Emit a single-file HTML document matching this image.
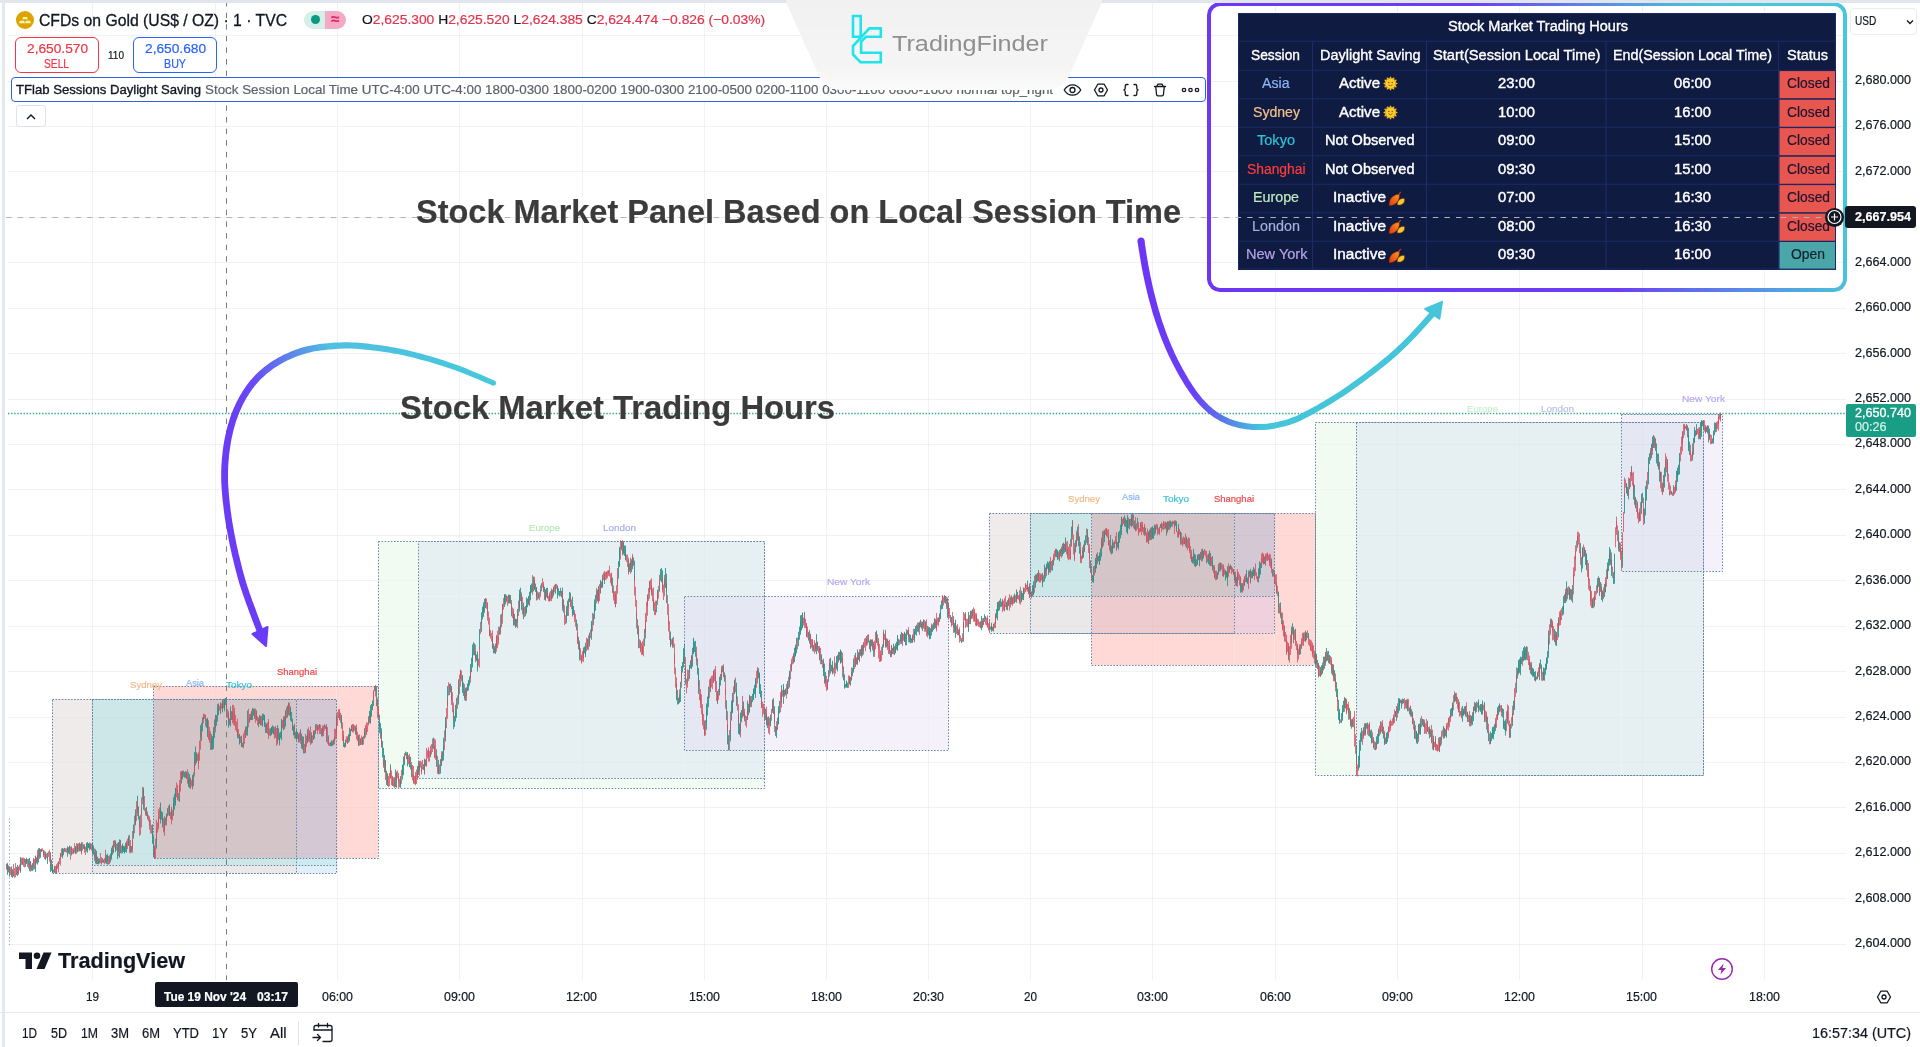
<!DOCTYPE html>
<html><head><meta charset="utf-8"><title>TFlab Sessions Daylight Saving</title>
<style>
html,body{margin:0;padding:0;background:#fff}
body{width:1920px;height:1047px;position:relative;overflow:hidden;font-family:"Liberation Sans",sans-serif}
.t{position:absolute;white-space:pre;margin:0;transform-origin:0 50%;-webkit-text-stroke:0.2px}
.b{position:absolute;box-sizing:border-box;display:block}
.chart{position:absolute;left:0;top:0}
</style></head><body>
<svg class="chart" width="1920" height="1047" viewBox="0 0 1920 1047">
<defs>
<linearGradient id="ga1" gradientUnits="userSpaceOnUse" x1="493" y1="380" x2="225" y2="420"><stop offset="0" stop-color="#45c8dc"/><stop offset="0.58" stop-color="#4fc0e0"/><stop offset="0.88" stop-color="#6a48f6"/><stop offset="1" stop-color="#6a3cf5"/></linearGradient>
<linearGradient id="ga2" gradientUnits="userSpaceOnUse" x1="1140" y1="0" x2="1442" y2="0"><stop offset="0" stop-color="#6d35f5"/><stop offset="0.18" stop-color="#6a40f5"/><stop offset="0.4" stop-color="#45c4da"/><stop offset="1" stop-color="#45c4da"/></linearGradient>
</defs>
<path d="M92.5 3V1012M215.5 3V1012M337.5 3V1012M459.5 3V1012M582.5 3V1012M704.5 3V1012M826.5 3V1012M928.5 3V1012M1030.5 3V1012M1152.5 3V1012M1275.5 3V1012M1397.5 3V1012M1519.5 3V1012M1642.5 3V1012M1764.5 3V1012M8 35.5H1846M8 81.5H1846M8 126.5H1846M8 171.5H1846M8 217.5H1846M8 262.5H1846M8 308.5H1846M8 353.5H1846M8 399.5H1846M8 444.5H1846M8 489.5H1846M8 535.5H1846M8 580.5H1846M8 626.5H1846M8 671.5H1846M8 717.5H1846M8 762.5H1846M8 807.5H1846M8 853.5H1846M8 898.5H1846M8 944.5H1846" stroke="#f6f6f9" stroke-width="1" fill="none"/>
<rect x="52.0" y="699.0" width="40.4" height="159.0" fill="#efebeb"/><rect x="52.0" y="858.0" width="40.4" height="7.0" fill="#efebeb"/><rect x="52.0" y="865.0" width="40.4" height="8.0" fill="#efebeb"/><rect x="92.4" y="699.0" width="61.1" height="159.0" fill="#cde6e8"/><rect x="92.4" y="858.0" width="61.1" height="7.0" fill="#cde6e8"/><rect x="92.4" y="865.0" width="61.1" height="8.0" fill="#ebe8ea"/><rect x="153.5" y="686.0" width="142.5" height="13.0" fill="#ffd9d6"/><rect x="153.5" y="699.0" width="142.5" height="159.0" fill="#d4c5c8"/><rect x="153.5" y="858.0" width="142.5" height="7.0" fill="#cde6e8"/><rect x="153.5" y="865.0" width="142.5" height="8.0" fill="#ebe8ea"/><rect x="296.0" y="686.0" width="40.5" height="13.0" fill="#ffd9d6"/><rect x="296.0" y="699.0" width="40.5" height="159.0" fill="#d3c8d3"/><rect x="296.0" y="858.0" width="40.5" height="7.0" fill="#cdeaf1"/><rect x="296.0" y="865.0" width="40.5" height="8.0" fill="#e0f0fb"/><rect x="336.5" y="686.0" width="41.5" height="13.0" fill="#ffd9d6"/><rect x="336.5" y="699.0" width="41.5" height="159.0" fill="#ffd9d6"/><rect x="378.0" y="541.7" width="40.7" height="55.0" fill="#f2fbf2"/><rect x="378.0" y="596.7" width="40.7" height="153.3" fill="#f2fbf2"/><rect x="378.0" y="750.0" width="40.7" height="28.0" fill="#f2fbf2"/><rect x="378.0" y="778.0" width="40.7" height="10.0" fill="#f2fbf2"/><rect x="418.7" y="541.7" width="265.6" height="55.0" fill="#e6f0f2"/><rect x="418.7" y="596.7" width="265.6" height="153.3" fill="#e6f0f2"/><rect x="418.7" y="750.0" width="265.6" height="28.0" fill="#e6f0f2"/><rect x="418.7" y="778.0" width="265.6" height="10.0" fill="#f2fbf2"/><rect x="684.3" y="541.7" width="80.4" height="55.0" fill="#e6f0f2"/><rect x="684.3" y="596.7" width="80.4" height="153.3" fill="#e5e7f3"/><rect x="684.3" y="750.0" width="80.4" height="28.0" fill="#e6f0f2"/><rect x="684.3" y="778.0" width="80.4" height="10.0" fill="#f2fbf2"/><rect x="764.7" y="596.7" width="183.8" height="153.3" fill="#f4f1fb"/><rect x="989.5" y="513.0" width="40.5" height="83.0" fill="#efebeb"/><rect x="989.5" y="596.0" width="40.5" height="37.3" fill="#efebeb"/><rect x="1030.0" y="513.0" width="61.5" height="83.0" fill="#cde6e8"/><rect x="1030.0" y="596.0" width="61.5" height="37.3" fill="#ebe8ea"/><rect x="1091.5" y="513.0" width="143.0" height="83.0" fill="#d4c5c8"/><rect x="1091.5" y="596.0" width="143.0" height="37.3" fill="#eecbcf"/><rect x="1091.5" y="633.3" width="143.0" height="31.7" fill="#ffd9d6"/><rect x="1234.5" y="513.0" width="40.0" height="83.0" fill="#d3c8d3"/><rect x="1234.5" y="596.0" width="40.0" height="37.3" fill="#f0d0dc"/><rect x="1234.5" y="633.3" width="40.0" height="31.7" fill="#ffd9d6"/><rect x="1274.5" y="513.0" width="40.5" height="83.0" fill="#ffd9d6"/><rect x="1274.5" y="596.0" width="40.5" height="37.3" fill="#ffd9d6"/><rect x="1274.5" y="633.3" width="40.5" height="31.7" fill="#ffd9d6"/><rect x="1315.3" y="422.0" width="40.7" height="149.0" fill="#f2fbf2"/><rect x="1315.3" y="571.0" width="40.7" height="204.7" fill="#f2fbf2"/><rect x="1356.0" y="422.0" width="265.5" height="149.0" fill="#e6f0f2"/><rect x="1356.0" y="571.0" width="265.5" height="204.7" fill="#e6f0f2"/><rect x="1621.5" y="414.0" width="81.5" height="8.0" fill="#f4f1fb"/><rect x="1621.5" y="422.0" width="81.5" height="149.0" fill="#e5e7f3"/><rect x="1621.5" y="571.0" width="81.5" height="204.7" fill="#e6f0f2"/><rect x="1703.0" y="414.0" width="19.0" height="8.0" fill="#f4f1fb"/><rect x="1703.0" y="422.0" width="19.0" height="149.0" fill="#f4f1fb"/>
<path d="M92.5 3V1012M215.5 3V1012M337.5 3V1012M459.5 3V1012M582.5 3V1012M704.5 3V1012M826.5 3V1012M928.5 3V1012M1030.5 3V1012M1152.5 3V1012M1275.5 3V1012M1397.5 3V1012M1519.5 3V1012M1642.5 3V1012M1764.5 3V1012M8 35.5H1846M8 81.5H1846M8 126.5H1846M8 171.5H1846M8 217.5H1846M8 262.5H1846M8 308.5H1846M8 353.5H1846M8 399.5H1846M8 444.5H1846M8 489.5H1846M8 535.5H1846M8 580.5H1846M8 626.5H1846M8 671.5H1846M8 717.5H1846M8 762.5H1846M8 807.5H1846M8 853.5H1846M8 898.5H1846M8 944.5H1846" stroke="rgba(60,70,100,0.024)" stroke-width="1" fill="none"/>
<g fill="none" stroke="#6483a6" stroke-width="1" stroke-dasharray="1.5 1.6"><rect x="52.5" y="699.5" width="244" height="174"/><rect x="92.5" y="699.5" width="244" height="174"/><rect x="92.5" y="699.5" width="244" height="166"/><rect x="153.5" y="686.5" width="225" height="172"/><rect x="378.5" y="541.5" width="386" height="247"/><rect x="418.5" y="541.5" width="346" height="237"/><rect x="684.5" y="596.5" width="264" height="154"/><rect x="989.5" y="513.5" width="245" height="120"/><rect x="1030.5" y="513.5" width="244" height="120"/><rect x="1030.5" y="513.5" width="244" height="83"/><rect x="1091.5" y="513.5" width="224" height="152"/><rect x="1315.5" y="422.5" width="388" height="353"/><rect x="1356.5" y="422.5" width="347" height="353"/><rect x="1621.5" y="414.5" width="101" height="157"/></g>
<path d="M9.5 818V945" stroke="#9db2c8" stroke-width="1" stroke-dasharray="1.5 2" fill="none"/>
<path d="M6.5 863.7V869.6M7.5 863.2V874.8M8.5 865.4V872.5M9.5 866.3V876.7M11.5 866.3V876.9M12.5 869.2V877.9M17.5 865.0V875.9M20.5 857.0V872.8M20.5 858.9V871.3M25.5 859.1V866.8M26.5 858.7V863.7M26.5 857.7V863.6M28.5 858.8V864.8M29.5 858.1V871.1M31.5 864.7V870.8M32.5 863.2V871.0M33.5 858.6V869.6M35.5 855.6V871.9M36.5 857.4V863.5M37.5 854.8V864.6M38.5 848.4V862.5M39.5 848.1V856.5M40.5 849.1V857.8M43.5 850.2V855.4M45.5 851.6V859.9M47.5 856.8V863.9M47.5 852.6V858.7M50.5 852.0V872.0M51.5 859.6V870.9M52.5 864.3V873.0M52.5 866.4V873.1M53.5 869.6V872.6M54.5 865.9V872.8M58.5 861.3V867.1M60.5 853.1V858.9M62.5 848.6V858.3M62.5 848.1V856.1M63.5 848.7V855.2M67.5 847.8V856.8M67.5 846.4V851.1M68.5 847.2V853.5M69.5 846.8V854.4M69.5 845.5V850.3M71.5 847.6V855.4M75.5 846.4V854.2M75.5 846.3V851.1M77.5 844.8V852.3M77.5 843.5V851.8M79.5 842.9V851.4M80.5 843.8V851.3M81.5 842.7V853.2M83.5 844.3V848.9M84.5 844.4V849.0M86.5 844.1V851.6M86.5 842.8V850.0M87.5 842.0V852.7M88.5 843.5V848.3M88.5 843.6V847.5M89.5 842.6V850.4M92.5 842.9V854.3M92.5 842.3V852.6M93.5 845.5V854.8M95.5 849.2V863.5M96.5 850.7V864.2M97.5 856.6V864.1M98.5 859.4V864.3M99.5 858.4V863.7M102.5 858.2V862.7M105.5 854.7V862.7M106.5 854.9V863.9M107.5 856.0V860.6M107.5 853.8V864.7M110.5 853.5V862.2M111.5 850.0V859.6M111.5 847.6V856.9M112.5 845.4V854.8M115.5 840.5V849.4M115.5 841.6V852.0M117.5 843.1V859.2M118.5 842.1V851.7M119.5 839.4V857.9M120.5 839.9V853.2M122.5 844.7V851.7M122.5 843.7V853.2M123.5 845.9V851.9M124.5 847.3V853.6M124.5 845.8V852.6M125.5 842.7V852.0M126.5 843.0V852.5M128.5 837.9V845.5M128.5 835.6V845.9M131.5 846.1V852.4M133.5 824.5V838.6M135.5 813.9V825.4M135.5 809.3V824.3M137.5 795.8V812.8M138.5 806.3V819.6M139.5 816.2V827.4M143.5 787.4V800.0M143.5 789.7V809.7M146.5 807.0V815.9M152.5 828.1V837.2M152.5 824.3V843.8M153.5 836.1V856.1M156.5 828.6V848.6M160.5 802.7V819.1M160.5 808.5V823.5M161.5 811.2V819.6M162.5 812.1V822.8M162.5 817.6V827.4M164.5 820.4V831.1M165.5 817.4V825.2M166.5 813.7V821.0M167.5 808.2V816.6M169.5 805.4V815.5M169.5 804.3V816.0M171.5 809.3V819.1M173.5 802.6V815.8M173.5 797.2V809.1M174.5 793.8V809.8M175.5 787.8V805.7M175.5 788.0V803.3M179.5 784.5V801.8M181.5 771.4V783.5M182.5 770.7V779.4M184.5 772.0V777.5M185.5 771.1V777.9M186.5 771.6V778.8M188.5 772.3V785.1M188.5 778.8V786.9M189.5 774.2V788.2M190.5 778.0V788.5M192.5 775.0V789.3M193.5 772.6V786.1M194.5 752.1V772.1M195.5 746.6V765.2M196.5 753.5V760.3M196.5 752.4V763.1M200.5 725.2V737.3M201.5 722.8V740.9M202.5 717.3V731.3M203.5 715.2V719.5M206.5 718.8V727.7M207.5 717.8V733.7M207.5 719.9V737.0M211.5 734.0V749.9M211.5 738.3V748.7M212.5 736.2V749.7M213.5 731.3V748.9M213.5 727.1V742.3M214.5 719.4V737.8M215.5 714.7V728.6M216.5 715.1V725.9M217.5 708.0V721.6M217.5 704.1V714.2M218.5 703.5V715.1M220.5 702.5V713.9M222.5 701.2V712.4M222.5 699.8V711.0M224.5 698.7V711.3M224.5 699.9V707.7M225.5 698.0V705.1M226.5 703.4V717.4M228.5 713.8V727.7M229.5 718.5V725.1M230.5 706.5V726.5M231.5 711.0V720.0M232.5 711.8V719.9M237.5 730.1V738.2M239.5 734.0V743.6M239.5 734.3V744.6M241.5 735.7V746.8M241.5 736.8V746.7M242.5 742.8V747.4M245.5 727.5V738.0M246.5 726.5V735.3M247.5 723.3V735.7M247.5 710.6V730.6M249.5 717.3V722.8M250.5 713.8V720.1M251.5 711.5V720.0M252.5 708.0V720.1M253.5 708.7V715.7M254.5 708.6V719.0M256.5 710.3V719.9M258.5 718.6V727.2M259.5 715.2V723.9M260.5 715.9V725.2M262.5 718.1V726.6M262.5 713.6V725.5M263.5 713.9V720.3M264.5 714.8V727.0M264.5 716.3V723.5M265.5 722.5V733.0M266.5 723.5V732.9M270.5 728.3V736.2M271.5 726.9V735.1M271.5 727.8V734.3M272.5 725.3V733.3M273.5 726.3V734.3M273.5 728.9V734.1M277.5 725.1V742.5M278.5 728.2V740.1M279.5 732.6V745.4M279.5 734.6V743.5M280.5 731.7V738.3M281.5 720.7V740.3M281.5 718.8V737.8M283.5 719.1V730.2M284.5 716.1V729.1M285.5 710.7V726.7M287.5 705.5V717.5M288.5 702.5V715.2M290.5 706.5V716.3M290.5 707.9V720.6M291.5 711.9V721.8M292.5 718.7V729.7M292.5 722.9V730.6M293.5 725.7V735.3M294.5 725.3V734.9M295.5 731.9V738.6M296.5 729.3V740.8M296.5 730.7V739.2M297.5 731.9V738.7M298.5 734.0V742.7M300.5 729.3V740.2M301.5 733.5V748.5M302.5 736.3V748.1M303.5 736.5V753.5M305.5 741.4V753.1M307.5 733.7V743.2M307.5 729.1V741.4M311.5 732.3V743.6M311.5 735.9V742.4M313.5 730.5V740.0M314.5 730.4V738.5M315.5 724.2V733.6M317.5 724.8V730.6M319.5 724.0V728.7M321.5 728.3V736.3M322.5 726.9V734.9M324.5 724.2V727.2M325.5 725.7V729.0M326.5 724.2V741.9M330.5 742.5V746.3M330.5 742.1V745.2M331.5 740.4V746.2M332.5 742.9V745.9M333.5 739.5V744.9M334.5 736.9V741.4M336.5 714.6V733.5M341.5 714.8V724.1M341.5 715.9V728.6M343.5 735.4V746.9M344.5 742.9V747.6M345.5 739.5V747.1M345.5 739.9V746.7M348.5 734.2V742.6M349.5 734.8V741.5M349.5 727.6V736.3M350.5 728.9V736.0M351.5 725.2V731.1M353.5 725.1V730.5M355.5 725.9V734.8M358.5 736.5V746.0M358.5 734.7V744.2M360.5 738.3V745.0M362.5 737.2V744.8M362.5 737.2V745.1M364.5 732.0V738.7M364.5 728.2V735.3M369.5 710.8V722.9M370.5 711.6V723.6M370.5 705.2V723.2M371.5 704.0V716.8M372.5 700.5V710.2M373.5 690.8V706.0M374.5 686.6V691.1M376.5 686.2V706.2M379.5 714.6V726.5M379.5 721.8V733.3M380.5 723.1V738.6M381.5 728.3V746.6M382.5 741.0V757.5M383.5 747.9V765.4M384.5 755.0V772.3M385.5 760.6V773.0M386.5 770.7V785.0M387.5 773.6V786.0M390.5 764.4V778.2M394.5 778.7V786.2M395.5 769.5V787.1M396.5 772.7V787.8M400.5 779.7V786.2M400.5 776.1V787.9M402.5 765.1V779.5M402.5 764.6V774.7M403.5 756.5V775.2M404.5 755.4V765.2M405.5 751.6V755.7M406.5 752.5V759.2M407.5 752.0V766.4M409.5 757.2V767.2M410.5 756.9V769.4M411.5 765.4V777.3M413.5 774.4V783.4M417.5 766.0V777.3M418.5 761.0V774.8M419.5 763.6V770.9M423.5 764.2V769.9M424.5 759.3V774.6M425.5 759.6V766.0M430.5 750.1V757.2M433.5 737.7V749.0M436.5 749.3V759.1M436.5 755.2V766.9M438.5 759.9V773.7M438.5 765.4V774.4M440.5 759.1V773.6M441.5 755.0V766.0M442.5 751.3V761.2M443.5 745.6V760.4M443.5 737.8V756.0M445.5 722.9V741.5M445.5 717.0V737.0M447.5 686.1V706.1M449.5 684.2V695.0M450.5 683.6V692.3M451.5 686.3V700.5M453.5 709.5V729.1M454.5 716.1V726.9M455.5 711.0V721.6M455.5 704.8V716.2M456.5 697.9V717.9M458.5 687.4V704.5M458.5 679.3V699.3M460.5 669.8V678.7M462.5 675.6V687.6M462.5 675.2V692.9M463.5 682.5V695.9M464.5 690.6V698.0M465.5 687.8V700.9M466.5 687.2V695.7M467.5 683.6V691.1M468.5 682.3V690.4M468.5 679.9V686.8M469.5 676.4V685.5M470.5 664.0V678.0M471.5 657.8V672.2M472.5 654.1V667.4M472.5 644.5V661.7M473.5 642.3V655.2M474.5 643.3V655.3M475.5 651.6V658.5M476.5 654.4V660.9M477.5 651.5V671.5M477.5 655.4V668.1M479.5 629.1V649.1M481.5 619.0V631.8M481.5 612.3V623.5M482.5 606.6V619.5M483.5 605.0V616.9M483.5 602.4V612.1M484.5 599.0V612.7M485.5 598.4V608.1M489.5 627.5V636.2M492.5 636.7V648.3M493.5 643.6V653.3M494.5 648.2V653.2M495.5 643.5V654.0M496.5 635.2V647.4M499.5 626.7V634.7M501.5 613.9V627.1M502.5 603.9V614.8M504.5 594.2V607.0M504.5 594.9V602.8M505.5 594.0V604.3M508.5 594.5V603.6M509.5 594.8V603.3M510.5 595.0V603.8M511.5 603.4V616.3M513.5 612.0V625.6M514.5 614.1V625.4M515.5 618.8V627.8M516.5 619.1V626.9M517.5 609.0V622.3M519.5 593.7V611.6M519.5 589.7V607.6M520.5 587.7V601.0M521.5 594.1V610.1M523.5 602.7V613.5M523.5 608.0V619.2M525.5 606.0V616.2M526.5 605.2V612.6M526.5 597.5V613.6M527.5 598.5V607.2M528.5 595.9V603.7M529.5 591.8V605.9M530.5 585.0V600.3M530.5 585.5V594.1M531.5 583.5V592.6M533.5 576.6V591.5M534.5 579.9V589.8M535.5 583.6V591.9M536.5 587.5V596.1M536.5 587.0V600.5M538.5 592.4V597.9M541.5 583.2V591.2M543.5 584.6V592.1M544.5 586.8V599.8M545.5 589.4V600.1M546.5 588.0V597.3M547.5 587.8V598.5M549.5 595.2V601.5M551.5 590.2V598.6M552.5 589.6V598.4M553.5 586.5V594.9M555.5 584.2V593.8M557.5 585.4V591.0M557.5 586.6V598.5M558.5 588.3V595.2M559.5 591.0V596.5M560.5 587.8V593.4M561.5 590.9V597.4M562.5 587.5V607.5M563.5 599.2V612.6M566.5 611.7V623.2M566.5 606.1V615.9M567.5 600.7V615.9M568.5 598.6V607.6M569.5 591.9V602.0M570.5 592.8V606.8M572.5 596.7V616.5M572.5 605.4V613.9M573.5 606.1V615.0M576.5 619.5V630.3M578.5 636.8V649.3M579.5 643.0V660.5M583.5 647.4V658.0M584.5 646.6V653.4M585.5 646.2V657.1M585.5 642.8V654.9M587.5 638.9V649.6M589.5 636.9V646.7M589.5 632.6V643.1M591.5 624.0V639.7M591.5 620.9V632.2M593.5 613.7V625.2M594.5 603.5V619.0M594.5 599.4V612.7M595.5 595.0V610.7M597.5 589.6V601.5M598.5 586.0V600.8M600.5 581.2V593.6M601.5 581.6V588.1M602.5 578.3V587.6M602.5 574.6V586.8M604.5 573.7V584.0M608.5 570.4V573.5M612.5 577.7V592.9M615.5 594.1V607.3M618.5 561.2V578.6M619.5 550.1V566.6M619.5 546.9V566.9M621.5 541.4V550.2M622.5 540.3V555.3M623.5 542.2V553.3M624.5 545.4V555.9M625.5 545.6V559.7M625.5 549.3V560.3M628.5 560.1V572.8M629.5 563.3V571.8M630.5 561.3V570.1M631.5 559.2V572.2M632.5 556.0V569.2M633.5 557.5V565.7M634.5 560.7V580.7M637.5 619.3V634.3M638.5 628.6V648.2M642.5 646.0V654.4M644.5 629.0V646.1M647.5 594.4V606.4M649.5 580.9V592.0M651.5 585.5V595.6M653.5 599.3V611.0M656.5 600.7V612.3M657.5 589.8V601.2M659.5 579.7V591.6M660.5 568.9V580.6M661.5 568.1V582.3M662.5 570.3V589.3M665.5 568.0V588.0M666.5 573.7V591.8M666.5 583.2V603.2M670.5 631.5V647.1M670.5 638.4V645.1M672.5 637.9V647.6M676.5 683.8V700.2M677.5 690.1V704.6M678.5 697.7V704.1M679.5 694.7V703.1M680.5 681.9V701.9M681.5 666.0V682.1M682.5 662.1V672.6M683.5 657.9V667.6M683.5 648.2V663.0M684.5 643.7V663.7M685.5 666.7V684.6M689.5 666.2V679.1M689.5 664.9V671.8M690.5 660.2V668.3M691.5 655.8V669.1M692.5 647.8V666.8M693.5 639.0V654.2M693.5 637.8V653.3M694.5 641.4V652.0M695.5 640.9V656.7M697.5 658.4V674.7M698.5 667.9V685.8M698.5 674.8V693.8M704.5 720.6V734.6M706.5 710.2V729.8M706.5 703.5V723.5M707.5 696.6V715.5M708.5 693.4V707.3M708.5 686.6V698.6M710.5 678.9V692.2M713.5 670.4V683.0M717.5 691.0V704.1M719.5 683.2V695.4M719.5 676.8V691.9M720.5 674.0V685.6M721.5 668.7V680.3M722.5 665.4V672.2M724.5 672.3V681.7M726.5 700.3V720.3M727.5 724.4V744.4M728.5 735.2V750.5M730.5 721.3V741.3M731.5 700.6V720.6M732.5 700.2V713.2M732.5 692.8V712.8M734.5 680.7V694.0M734.5 679.6V691.8M736.5 682.6V698.6M736.5 691.3V705.9M738.5 713.9V733.9M739.5 723.4V735.2M740.5 712.6V732.6M741.5 710.0V722.3M743.5 701.5V716.3M744.5 712.3V721.3M747.5 700.7V719.9M748.5 703.7V715.2M749.5 694.8V712.4M750.5 696.2V707.1M752.5 693.9V702.1M753.5 688.9V699.5M753.5 688.5V699.9M754.5 684.9V694.2M755.5 678.0V698.0M755.5 681.4V692.7M758.5 668.1V678.4M759.5 672.4V688.1M759.5 673.9V693.9M760.5 684.2V697.3M761.5 690.8V707.8M765.5 708.7V719.9M766.5 713.6V725.5M767.5 716.9V728.1M768.5 716.3V725.2M770.5 718.2V726.4M770.5 714.6V725.1M772.5 699.8V711.4M773.5 698.1V714.0M774.5 706.2V722.6M775.5 726.1V735.9M776.5 727.0V737.9M777.5 717.7V729.8M778.5 710.6V723.8M778.5 706.1V724.4M779.5 701.0V713.3M781.5 685.1V702.6M783.5 686.5V695.7M783.5 683.9V703.9M784.5 689.8V696.7M785.5 688.8V695.3M787.5 686.1V694.1M787.5 680.9V693.5M789.5 673.1V687.5M789.5 670.7V681.1M791.5 662.7V671.5M793.5 654.6V663.5M794.5 647.8V662.1M795.5 646.5V656.6M795.5 644.7V655.9M796.5 637.7V653.3M798.5 637.8V646.2M798.5 631.8V640.4M799.5 626.6V639.6M800.5 621.6V634.8M800.5 615.3V632.0M801.5 615.0V630.5M802.5 612.5V627.9M802.5 613.1V628.2M804.5 611.9V622.8M806.5 623.0V636.6M809.5 630.1V643.5M810.5 633.7V648.8M813.5 645.0V651.5M815.5 643.5V651.6M816.5 634.2V654.2M817.5 641.7V650.8M819.5 648.1V660.4M821.5 654.2V660.8M821.5 656.0V664.2M823.5 658.7V676.2M823.5 664.0V671.8M824.5 663.6V683.6M825.5 672.1V683.2M827.5 680.9V689.0M828.5 670.1V681.9M830.5 657.8V673.6M831.5 664.8V671.5M832.5 660.7V674.4M832.5 665.8V672.1M834.5 663.6V668.5M836.5 661.9V669.5M836.5 656.0V667.4M837.5 655.1V671.3M838.5 653.1V661.3M839.5 651.9V660.2M840.5 649.5V663.7M840.5 650.2V662.9M841.5 651.3V662.5M843.5 666.5V680.4M844.5 674.3V688.7M844.5 684.4V687.4M845.5 684.1V687.6M846.5 680.9V687.1M846.5 680.7V687.5M847.5 682.6V687.9M849.5 677.1V684.0M850.5 676.9V685.7M851.5 672.3V680.4M852.5 667.9V676.2M853.5 663.8V672.7M853.5 658.5V671.2M855.5 652.8V667.1M856.5 657.4V664.5M857.5 649.5V664.8M858.5 652.3V660.0M860.5 649.1V655.8M861.5 645.3V657.6M862.5 644.8V655.8M866.5 636.0V644.5M868.5 634.7V642.6M869.5 640.6V649.2M870.5 639.4V652.2M871.5 639.6V646.3M873.5 641.9V656.7M876.5 631.2V642.8M876.5 630.6V642.6M882.5 644.4V655.1M883.5 631.8V647.5M885.5 629.8V647.5M886.5 638.2V647.4M890.5 650.3V657.1M891.5 644.9V655.0M892.5 647.9V654.0M893.5 643.7V651.4M894.5 646.0V654.9M895.5 643.6V653.0M896.5 641.8V649.6M897.5 635.0V650.9M897.5 636.7V650.1M898.5 638.9V645.6M900.5 634.2V641.9M901.5 631.8V644.0M902.5 633.7V641.4M904.5 632.5V642.0M904.5 631.8V641.9M905.5 633.6V645.3M906.5 631.8V645.4M907.5 630.1V634.7M909.5 634.1V642.4M910.5 634.9V640.2M910.5 638.4V643.4M911.5 638.3V642.8M912.5 634.5V642.9M914.5 632.0V642.3M914.5 629.0V638.3M915.5 625.9V634.6M916.5 624.8V635.6M917.5 626.0V631.7M918.5 622.6V632.3M919.5 622.6V628.5M920.5 619.7V627.2M921.5 623.5V628.5M922.5 621.8V631.1M923.5 619.5V626.3M925.5 621.2V629.6M927.5 625.7V634.1M928.5 626.8V635.4M929.5 627.0V637.3M929.5 630.6V639.2M930.5 628.2V638.9M931.5 626.2V635.6M932.5 624.5V631.9M933.5 622.5V630.1M935.5 619.1V628.3M936.5 619.9V628.7M939.5 613.5V622.0M940.5 611.0V619.1M940.5 604.9V617.1M941.5 600.5V609.4M942.5 596.9V608.9M944.5 595.8V601.1M945.5 596.3V603.5M947.5 597.7V617.7M950.5 615.0V622.5M953.5 616.2V627.6M954.5 623.1V632.6M955.5 621.9V631.5M955.5 619.7V637.8M958.5 629.5V635.2M961.5 640.0V643.0M963.5 621.7V641.7M965.5 612.1V621.1M968.5 617.1V626.8M968.5 611.9V631.9M970.5 611.4V624.3M971.5 610.7V619.0M972.5 609.2V616.3M976.5 615.2V625.5M981.5 616.0V630.2M982.5 621.1V627.6M983.5 617.9V625.1M984.5 614.3V621.8M985.5 616.1V619.6M990.5 626.6V629.6M991.5 625.3V631.7M991.5 622.7V629.6M992.5 626.8V630.8M993.5 623.7V631.4M995.5 613.6V623.5M996.5 609.2V618.2M997.5 602.0V620.3M997.5 603.7V613.6M998.5 601.4V610.9M999.5 601.1V610.4M1000.5 598.4V607.2M1001.5 601.7V606.7M1002.5 599.3V605.6M1004.5 604.7V611.3M1006.5 602.6V608.5M1007.5 600.2V610.3M1008.5 598.9V606.0M1011.5 595.2V604.5M1012.5 597.2V603.5M1014.5 593.5V603.3M1014.5 595.3V602.9M1016.5 589.5V601.4M1017.5 591.9V599.1M1021.5 592.9V600.9M1021.5 590.9V602.2M1022.5 593.0V599.7M1023.5 589.3V600.1M1023.5 587.5V597.2M1027.5 580.6V589.6M1028.5 586.9V594.2M1029.5 583.4V597.6M1031.5 591.3V596.3M1032.5 585.0V596.5M1033.5 588.0V595.1M1033.5 581.2V594.1M1035.5 574.5V587.8M1036.5 575.1V582.9M1037.5 573.0V581.3M1038.5 570.1V580.3M1042.5 576.7V583.0M1042.5 573.1V587.1M1044.5 564.6V581.6M1045.5 567.4V578.4M1046.5 563.7V570.8M1047.5 561.4V568.8M1048.5 564.8V570.6M1048.5 562.3V574.8M1049.5 560.9V572.4M1050.5 562.1V570.1M1052.5 559.7V570.8M1056.5 548.8V557.1M1057.5 550.0V560.1M1057.5 552.0V557.9M1059.5 550.0V561.3M1060.5 548.8V556.4M1062.5 543.8V556.2M1063.5 543.3V553.9M1064.5 543.8V552.6M1065.5 537.5V551.9M1067.5 549.0V556.0M1071.5 526.6V546.6M1072.5 520.1V534.1M1075.5 540.1V552.4M1077.5 526.7V540.6M1078.5 533.1V546.3M1079.5 536.4V553.8M1082.5 550.6V558.0M1083.5 544.7V557.7M1084.5 540.3V552.2M1085.5 535.3V545.2M1087.5 529.1V539.9M1087.5 534.8V545.0M1090.5 560.4V572.8M1092.5 575.0V582.1M1093.5 575.6V582.7M1093.5 566.3V581.9M1095.5 560.4V572.8M1095.5 557.9V569.0M1096.5 553.9V568.4M1098.5 556.0V561.4M1099.5 552.5V565.0M1099.5 555.7V564.0M1100.5 548.4V560.7M1101.5 540.8V556.8M1102.5 531.3V547.9M1104.5 532.3V542.3M1104.5 529.8V537.4M1108.5 536.3V545.5M1110.5 534.9V552.0M1111.5 545.6V554.4M1112.5 539.3V552.2M1112.5 543.5V553.4M1114.5 542.4V548.1M1116.5 541.3V549.7M1117.5 541.9V547.6M1118.5 535.1V549.7M1118.5 532.1V548.0M1119.5 530.6V542.8M1120.5 524.6V538.5M1121.5 517.4V535.1M1121.5 516.7V529.1M1124.5 515.4V526.3M1125.5 519.6V526.9M1126.5 520.0V532.2M1127.5 517.9V534.1M1127.5 515.1V533.1M1129.5 519.2V525.3M1129.5 519.3V529.1M1131.5 516.4V525.6M1131.5 514.1V527.1M1132.5 513.4V525.8M1134.5 520.5V529.4M1135.5 525.5V530.0M1137.5 517.8V528.8M1140.5 522.4V531.1M1145.5 527.7V535.3M1148.5 531.4V544.1M1149.5 529.8V540.2M1151.5 527.2V539.9M1152.5 526.2V538.9M1152.5 528.6V537.2M1153.5 527.8V538.9M1154.5 524.4V535.5M1155.5 525.1V532.6M1159.5 526.8V532.6M1160.5 524.1V527.9M1161.5 523.5V528.3M1165.5 521.7V528.6M1166.5 522.5V535.6M1167.5 521.9V531.4M1168.5 521.4V529.8M1170.5 520.4V528.4M1171.5 522.0V526.5M1174.5 521.9V527.4M1175.5 520.5V525.9M1176.5 521.1V529.6M1176.5 524.5V532.1M1178.5 524.0V537.8M1180.5 532.3V539.5M1180.5 531.4V544.7M1184.5 538.9V544.2M1186.5 537.5V542.8M1186.5 536.6V548.0M1191.5 553.2V562.1M1192.5 556.5V563.4M1193.5 548.8V563.6M1194.5 553.6V566.2M1195.5 554.6V566.3M1196.5 559.3V565.9M1197.5 554.5V565.0M1197.5 555.7V562.6M1198.5 554.2V560.0M1199.5 553.9V566.3M1200.5 552.0V559.8M1202.5 548.8V561.2M1203.5 550.7V558.5M1206.5 556.2V563.4M1208.5 554.4V564.1M1209.5 550.5V565.4M1210.5 553.0V566.3M1212.5 556.1V567.8M1212.5 562.2V570.3M1214.5 566.7V578.2M1217.5 572.1V578.9M1218.5 566.8V574.8M1218.5 563.8V572.0M1220.5 562.6V571.2M1220.5 562.8V569.1M1225.5 570.3V577.4M1225.5 571.0V580.4M1226.5 571.2V577.7M1227.5 572.0V578.9M1227.5 566.2V586.2M1229.5 566.5V573.0M1230.5 564.4V569.6M1231.5 566.4V569.4M1233.5 569.1V573.7M1234.5 571.6V581.1M1235.5 574.6V581.7M1236.5 576.9V586.1M1240.5 576.8V592.7M1241.5 583.1V592.3M1242.5 583.1V590.4M1244.5 577.1V586.1M1246.5 569.8V582.4M1246.5 576.6V582.3M1247.5 577.7V583.8M1249.5 570.7V576.9M1250.5 568.8V583.4M1251.5 571.3V578.5M1252.5 571.7V578.1M1252.5 569.9V577.1M1253.5 566.9V575.9M1254.5 570.1V576.2M1258.5 568.4V582.6M1259.5 565.5V578.1M1259.5 561.3V573.9M1260.5 562.8V574.6M1261.5 558.6V568.0M1264.5 556.4V564.0M1271.5 558.6V569.1M1272.5 568.9V576.7M1274.5 571.8V583.7M1276.5 582.2V593.8M1278.5 591.6V602.3M1278.5 593.6V613.3M1280.5 602.4V615.6M1281.5 612.5V624.2M1284.5 625.6V637.0M1288.5 645.4V660.3M1291.5 626.7V642.8M1292.5 623.3V634.6M1293.5 627.5V643.2M1295.5 628.8V641.5M1297.5 645.7V654.3M1299.5 646.9V655.0M1300.5 644.2V654.3M1305.5 630.6V642.2M1305.5 633.0V640.2M1306.5 632.3V640.3M1308.5 633.0V639.0M1315.5 652.6V665.1M1316.5 653.8V663.7M1317.5 660.0V669.2M1318.5 663.0V677.4M1320.5 667.0V676.9M1321.5 665.2V675.3M1322.5 665.2V673.8M1323.5 656.7V670.3M1324.5 656.7V668.6M1325.5 651.9V663.3M1326.5 648.1V661.5M1328.5 650.9V663.2M1329.5 655.0V662.1M1331.5 660.7V673.6M1332.5 664.0V675.4M1334.5 670.2V681.4M1336.5 682.1V697.0M1337.5 688.7V701.3M1338.5 699.8V719.8M1339.5 709.1V721.3M1339.5 712.4V723.7M1341.5 713.1V722.9M1342.5 709.7V720.8M1342.5 705.0V715.9M1343.5 700.8V712.2M1344.5 697.1V707.9M1345.5 698.1V708.4M1349.5 708.1V719.4M1350.5 710.8V725.2M1351.5 719.2V728.7M1352.5 719.5V726.9M1356.5 744.9V764.9M1358.5 755.8V770.5M1359.5 750.8V767.7M1359.5 740.1V760.1M1360.5 732.5V750.8M1361.5 734.7V741.8M1361.5 728.0V740.9M1363.5 727.2V736.3M1364.5 723.3V735.5M1365.5 723.8V733.6M1366.5 723.3V728.7M1367.5 722.5V728.6M1369.5 724.5V736.5M1370.5 730.3V738.0M1371.5 729.6V742.1M1371.5 735.4V743.5M1373.5 737.2V748.4M1375.5 742.2V750.2M1376.5 736.4V748.3M1377.5 734.0V744.2M1378.5 730.9V743.6M1378.5 728.6V736.1M1380.5 721.3V734.2M1383.5 726.7V738.5M1384.5 732.9V745.0M1385.5 737.6V743.9M1386.5 732.7V743.2M1386.5 734.1V743.9M1387.5 731.7V742.1M1393.5 717.0V722.6M1395.5 711.5V717.0M1396.5 706.1V720.9M1398.5 698.2V713.3M1399.5 699.4V710.7M1399.5 698.4V706.4M1400.5 699.7V703.1M1401.5 700.2V708.6M1402.5 698.5V704.3M1403.5 699.0V702.9M1406.5 699.5V708.8M1407.5 700.2V711.3M1409.5 707.5V714.3M1410.5 705.6V715.7M1411.5 709.2V717.0M1412.5 711.5V723.7M1414.5 720.7V738.7M1414.5 727.0V737.9M1416.5 731.2V741.4M1416.5 731.0V743.3M1417.5 733.4V744.0M1418.5 724.1V738.8M1419.5 723.6V734.3M1420.5 722.6V734.7M1420.5 718.3V731.4M1422.5 718.9V725.6M1423.5 719.2V727.0M1424.5 721.8V727.8M1427.5 720.8V731.0M1429.5 728.7V738.4M1429.5 726.4V734.0M1430.5 729.2V737.0M1433.5 735.7V749.0M1433.5 739.9V750.4M1439.5 737.1V752.1M1440.5 736.8V746.4M1443.5 726.0V738.7M1444.5 727.8V736.7M1445.5 729.2V736.2M1446.5 725.8V737.8M1450.5 708.9V718.1M1451.5 708.0V716.6M1452.5 704.6V716.1M1452.5 702.4V712.6M1454.5 693.9V702.3M1455.5 693.0V701.3M1458.5 699.3V712.2M1460.5 711.1V715.6M1462.5 705.9V721.8M1463.5 710.8V715.1M1463.5 708.6V715.8M1464.5 706.3V714.4M1465.5 706.1V715.0M1467.5 711.7V718.3M1467.5 712.1V721.9M1470.5 715.0V726.4M1471.5 715.8V723.2M1472.5 712.3V724.9M1473.5 706.5V721.1M1474.5 701.9V711.0M1475.5 704.1V713.3M1476.5 701.6V711.8M1478.5 699.6V709.0M1478.5 702.1V712.3M1480.5 704.0V711.8M1480.5 705.7V710.7M1481.5 704.1V714.5M1482.5 700.5V714.6M1482.5 703.1V710.4M1484.5 702.1V722.1M1487.5 716.7V732.9M1488.5 730.8V741.1M1490.5 737.7V744.1M1490.5 731.4V743.2M1491.5 733.1V741.1M1492.5 727.1V737.4M1492.5 728.3V738.6M1493.5 726.5V739.4M1494.5 724.2V734.0M1495.5 721.7V731.0M1497.5 707.3V719.3M1498.5 705.6V715.2M1499.5 704.7V712.4M1499.5 703.4V708.5M1502.5 708.3V717.4M1503.5 709.1V727.5M1503.5 719.7V728.9M1504.5 720.8V730.0M1505.5 723.4V735.6M1505.5 719.3V732.3M1507.5 710.2V723.6M1510.5 723.7V737.7M1512.5 713.6V726.1M1513.5 700.9V714.9M1514.5 696.6V710.0M1516.5 674.9V692.8M1517.5 668.1V678.5M1518.5 663.1V674.6M1518.5 660.1V672.1M1519.5 658.8V672.9M1520.5 656.7V675.2M1520.5 659.7V668.2M1521.5 657.2V664.2M1522.5 650.8V661.5M1523.5 647.6V661.1M1524.5 650.0V658.7M1524.5 646.2V660.2M1525.5 647.3V660.2M1526.5 649.6V659.8M1526.5 646.1V656.8M1530.5 662.4V673.7M1531.5 664.8V674.9M1532.5 667.7V676.5M1533.5 668.8V675.7M1533.5 669.1V676.8M1534.5 671.9V680.4M1535.5 671.1V681.5M1536.5 676.6V679.6M1537.5 672.4V679.2M1539.5 663.2V680.1M1540.5 659.5V668.9M1541.5 664.6V674.5M1543.5 672.1V680.4M1543.5 667.4V679.7M1544.5 668.2V680.7M1545.5 663.7V674.8M1546.5 658.7V669.6M1546.5 657.3V669.2M1547.5 651.0V663.7M1548.5 638.5V657.7M1548.5 630.4V649.1M1551.5 618.9V627.8M1554.5 629.0V641.5M1555.5 630.9V645.3M1556.5 632.1V646.0M1558.5 617.3V637.3M1562.5 606.4V615.5M1563.5 605.3V614.5M1563.5 596.2V609.8M1564.5 594.2V603.1M1565.5 591.8V603.0M1566.5 581.4V601.4M1567.5 588.8V595.0M1569.5 588.2V597.2M1569.5 587.3V599.8M1570.5 588.9V599.6M1572.5 585.0V602.7M1577.5 536.0V547.7M1580.5 543.0V557.1M1581.5 557.2V572.3M1582.5 548.6V568.6M1582.5 547.2V559.1M1584.5 548.6V556.4M1585.5 549.9V564.9M1586.5 555.2V567.3M1586.5 553.3V570.2M1590.5 585.6V601.3M1592.5 598.4V607.1M1592.5 599.4V608.1M1594.5 595.8V606.7M1597.5 584.2V592.9M1597.5 578.1V588.4M1598.5 576.3V586.7M1599.5 578.2V596.0M1600.5 582.0V591.8M1601.5 587.3V600.0M1602.5 590.4V601.8M1604.5 584.0V597.0M1605.5 581.9V592.3M1607.5 568.2V578.8M1607.5 562.4V578.8M1608.5 558.8V571.2M1609.5 553.8V565.7M1609.5 547.1V561.4M1610.5 549.4V564.9M1611.5 559.3V575.8M1613.5 572.2V584.1M1614.5 570.8V583.7M1614.5 553.8V573.8M1618.5 530.6V548.3M1619.5 542.2V551.7M1622.5 547.6V567.6M1624.5 493.5V513.5M1626.5 484.4V493.5M1626.5 483.1V493.1M1627.5 486.9V495.9M1628.5 489.2V499.3M1629.5 478.3V489.1M1631.5 466.1V476.0M1633.5 482.7V499.6M1634.5 484.8V504.8M1635.5 497.9V508.2M1637.5 501.5V514.1M1639.5 511.5V521.4M1641.5 502.9V513.9M1641.5 493.8V507.4M1642.5 492.8V503.1M1644.5 508.5V523.6M1645.5 499.2V515.4M1645.5 486.2V506.2M1646.5 480.5V500.5M1648.5 468.3V484.4M1648.5 457.2V473.4M1649.5 453.3V464.1M1650.5 451.1V460.2M1651.5 443.8V458.1M1652.5 436.7V450.3M1653.5 435.0V448.0M1655.5 438.3V450.9M1656.5 443.4V455.0M1656.5 450.8V463.4M1657.5 453.5V466.2M1658.5 453.7V468.4M1659.5 461.9V481.6M1660.5 471.6V481.3M1663.5 475.0V491.9M1664.5 467.6V487.6M1665.5 459.7V476.8M1667.5 459.1V475.4M1669.5 491.8V495.4M1671.5 491.0V494.0M1673.5 485.2V495.7M1676.5 470.8V490.8M1677.5 471.1V482.1M1677.5 467.6V477.8M1678.5 464.8V475.1M1679.5 458.1V474.3M1679.5 453.0V465.6M1682.5 431.1V443.3M1686.5 424.2V429.5M1687.5 425.4V437.3M1688.5 427.9V447.9M1688.5 435.1V451.2M1689.5 441.6V455.0M1692.5 451.4V460.5M1693.5 437.9V454.8M1694.5 430.9V443.0M1694.5 427.1V442.8M1695.5 430.3V436.4M1696.5 424.1V435.2M1699.5 430.0V439.1M1700.5 423.0V439.5M1701.5 420.9V436.8M1701.5 420.2V426.1M1702.5 420.7V426.1M1703.5 420.0V429.8M1705.5 427.0V433.2M1706.5 426.6V431.9M1707.5 425.3V433.5M1708.5 425.6V442.5M1709.5 428.5V438.2M1712.5 438.4V443.5M1713.5 433.5V443.6M1713.5 430.6V440.6M1714.5 422.3V435.2M1715.5 422.9V432.4M1718.5 416.6V423.9M1720.5 412.8V419.4" stroke="#2a9187" stroke-width="1" fill="none" opacity="0.88"/><path d="M7.5 863.6V870.9M9.5 866.8V873.1M10.5 867.2V875.0M11.5 868.7V873.8M13.5 863.9V876.1M13.5 871.3V876.5M14.5 868.2V877.8M15.5 863.0V877.3M16.5 867.1V875.2M16.5 867.2V875.0M18.5 866.5V874.7M18.5 866.9V873.9M19.5 864.5V870.5M21.5 857.7V864.8M22.5 858.5V865.2M22.5 857.8V864.4M23.5 857.6V866.7M24.5 858.2V867.4M24.5 859.1V862.1M27.5 859.0V867.0M28.5 862.7V868.5M30.5 861.1V869.2M30.5 861.7V871.8M33.5 858.2V866.7M34.5 859.0V869.4M35.5 856.4V865.0M37.5 849.9V861.4M39.5 849.4V858.9M41.5 849.1V852.1M41.5 848.6V851.6M42.5 848.3V851.3M43.5 850.2V857.1M44.5 850.6V859.0M45.5 853.9V858.2M46.5 853.4V858.0M48.5 851.3V856.9M49.5 849.7V861.6M50.5 856.3V867.5M54.5 867.9V871.5M55.5 866.0V873.9M56.5 864.2V873.2M56.5 865.6V873.4M57.5 862.6V869.0M58.5 863.3V872.3M59.5 857.9V864.1M60.5 853.3V865.7M61.5 848.5V856.8M64.5 847.9V851.0M64.5 848.2V852.1M65.5 848.3V852.1M66.5 848.3V852.6M70.5 846.6V859.7M71.5 846.3V851.7M72.5 848.5V854.2M73.5 850.3V853.9M73.5 848.1V852.9M74.5 843.0V852.7M76.5 843.2V853.7M78.5 843.5V851.3M79.5 842.7V849.4M81.5 842.3V854.6M82.5 842.2V850.5M84.5 846.0V852.7M85.5 846.8V855.0M90.5 842.9V849.4M90.5 844.4V849.0M91.5 843.6V850.6M94.5 848.3V857.5M94.5 851.8V860.9M96.5 854.8V862.8M98.5 858.1V862.9M100.5 853.0V863.0M101.5 857.1V864.4M101.5 860.8V864.3M103.5 859.6V862.6M103.5 859.7V862.7M104.5 858.1V864.2M105.5 849.7V863.1M108.5 855.9V864.4M109.5 855.2V864.2M109.5 856.8V862.5M113.5 840.9V852.7M113.5 840.7V852.8M114.5 840.1V847.3M116.5 843.8V850.4M118.5 842.0V856.3M120.5 841.7V847.5M121.5 845.8V853.6M126.5 840.8V847.8M127.5 838.7V849.0M129.5 834.9V852.7M130.5 840.1V853.3M130.5 846.0V852.5M132.5 840.1V852.7M132.5 831.0V849.3M134.5 815.7V833.3M136.5 801.0V821.0M137.5 804.3V816.0M139.5 822.1V835.8M140.5 814.8V834.8M141.5 807.4V827.4M141.5 797.4V814.5M142.5 786.9V804.3M144.5 796.0V811.0M145.5 807.8V814.1M145.5 809.4V815.7M147.5 811.4V818.2M147.5 813.1V819.5M148.5 815.0V821.3M149.5 816.3V825.6M149.5 819.0V829.7M150.5 819.8V833.4M151.5 824.9V833.7M154.5 847.5V858.3M154.5 845.1V857.8M155.5 838.7V858.7M156.5 819.7V839.7M157.5 822.6V832.6M158.5 816.9V829.5M158.5 809.4V827.2M159.5 807.4V818.8M163.5 817.9V832.4M164.5 816.0V836.0M166.5 813.8V825.6M168.5 805.8V815.3M170.5 811.7V819.2M171.5 806.6V824.4M172.5 809.7V820.3M176.5 782.5V797.3M177.5 784.8V799.0M177.5 789.9V800.2M178.5 793.1V800.9M179.5 780.0V792.7M180.5 771.5V791.5M181.5 771.2V778.5M183.5 770.5V777.0M183.5 771.9V775.5M186.5 774.0V779.1M187.5 769.4V783.7M190.5 777.8V788.7M191.5 780.1V786.5M192.5 778.1V787.6M194.5 760.1V776.6M197.5 754.0V761.1M198.5 754.4V764.1M198.5 751.8V769.4M199.5 740.7V760.7M200.5 729.6V749.6M203.5 713.7V723.3M204.5 714.0V718.8M205.5 715.2V721.4M205.5 714.7V726.5M208.5 720.3V739.9M209.5 726.8V740.4M209.5 733.2V742.7M210.5 731.2V750.0M215.5 716.7V732.3M219.5 705.8V710.8M220.5 703.6V712.6M221.5 703.4V708.8M223.5 698.9V708.2M226.5 700.2V710.3M227.5 709.0V718.1M228.5 711.2V723.4M230.5 712.5V720.1M232.5 704.8V723.2M233.5 705.0V725.0M234.5 711.1V722.8M234.5 707.7V726.1M235.5 714.8V730.2M236.5 721.5V731.8M237.5 718.6V735.7M238.5 729.0V738.5M240.5 736.3V743.0M243.5 741.9V748.1M243.5 733.4V746.7M244.5 730.2V743.8M245.5 726.4V737.9M248.5 708.6V727.3M249.5 714.0V721.3M251.5 710.5V719.6M254.5 710.3V716.8M255.5 708.6V722.8M256.5 711.9V720.7M257.5 716.2V725.0M258.5 717.4V725.2M260.5 717.7V725.3M261.5 715.8V725.4M266.5 723.9V730.8M267.5 722.3V734.0M268.5 721.3V735.7M268.5 719.0V739.0M269.5 728.6V735.5M274.5 727.1V738.7M275.5 725.9V736.5M275.5 727.5V738.0M276.5 728.0V745.9M277.5 729.1V744.5M282.5 720.0V728.3M283.5 716.2V728.6M285.5 710.0V720.3M286.5 707.3V718.4M288.5 704.1V710.6M289.5 702.5V715.8M294.5 723.7V738.5M298.5 733.4V740.8M299.5 732.3V742.2M300.5 731.4V743.9M302.5 739.6V749.8M304.5 744.0V753.5M305.5 733.8V751.1M306.5 735.8V746.8M308.5 727.3V741.6M309.5 730.4V742.3M309.5 732.4V738.9M310.5 726.4V745.1M312.5 735.4V743.0M313.5 731.4V737.7M315.5 727.4V734.1M316.5 724.1V730.5M317.5 727.5V734.2M318.5 725.1V730.6M319.5 724.2V734.0M320.5 724.7V734.0M322.5 725.4V736.6M323.5 725.5V736.2M324.5 724.8V731.1M326.5 724.8V735.0M327.5 727.1V743.7M328.5 737.5V744.1M328.5 735.3V745.8M329.5 742.8V745.8M332.5 740.3V745.0M334.5 728.8V744.3M335.5 728.8V739.4M336.5 718.0V738.0M337.5 711.7V726.0M338.5 709.3V718.1M339.5 709.1V719.8M339.5 712.5V720.3M340.5 712.8V722.8M342.5 722.5V740.8M343.5 730.8V742.6M346.5 736.3V742.6M347.5 736.3V743.0M347.5 737.4V744.0M351.5 724.9V731.1M352.5 724.0V732.4M353.5 724.1V732.6M354.5 725.2V731.0M356.5 724.4V734.3M356.5 727.8V739.3M357.5 731.8V741.2M359.5 734.5V745.5M360.5 738.8V744.5M361.5 735.5V744.7M363.5 735.9V744.4M365.5 724.9V737.6M366.5 726.6V734.4M366.5 722.4V735.0M367.5 722.6V731.8M368.5 717.3V725.5M368.5 716.1V724.3M373.5 690.4V699.8M375.5 685.8V691.0M375.5 684.9V696.5M377.5 697.8V709.3M377.5 700.2V717.9M378.5 707.1V719.1M381.5 733.0V747.8M383.5 759.3V767.8M385.5 760.0V780.0M387.5 773.3V785.1M388.5 775.8V786.9M389.5 773.0V786.3M390.5 767.1V778.8M391.5 770.4V785.2M392.5 775.9V786.0M392.5 776.8V785.7M393.5 777.5V786.7M394.5 777.1V787.9M396.5 771.5V779.4M397.5 770.4V778.4M398.5 772.8V782.3M398.5 776.2V787.7M399.5 778.8V787.3M401.5 769.8V783.8M404.5 753.2V761.9M407.5 753.8V760.6M408.5 755.1V764.2M409.5 753.9V763.5M411.5 762.0V772.2M412.5 765.1V780.4M413.5 765.8V783.4M414.5 776.0V784.2M415.5 775.3V783.5M415.5 772.0V785.3M416.5 769.5V784.0M417.5 771.0V779.9M419.5 761.0V775.8M420.5 760.7V767.5M421.5 761.7V774.4M421.5 766.2V772.0M422.5 760.0V769.6M424.5 758.6V774.0M426.5 758.9V766.8M426.5 747.9V765.4M427.5 750.3V758.4M428.5 749.2V756.9M428.5 747.3V761.6M429.5 751.1V761.6M430.5 745.7V754.8M431.5 744.1V754.5M432.5 744.0V752.0M432.5 738.5V747.6M434.5 738.6V756.7M434.5 745.7V758.3M435.5 739.7V759.7M437.5 755.9V773.6M439.5 764.4V774.2M441.5 751.3V765.1M444.5 730.4V750.0M446.5 708.1V728.1M447.5 698.8V718.8M448.5 682.2V695.5M449.5 683.9V687.1M451.5 686.6V705.1M452.5 692.3V712.3M453.5 702.6V718.8M457.5 695.3V708.7M459.5 674.6V694.3M460.5 670.2V686.5M461.5 670.6V681.3M464.5 684.0V700.3M466.5 690.1V700.7M470.5 669.5V682.7M475.5 644.7V662.2M478.5 658.7V665.8M479.5 647.6V667.6M480.5 621.8V633.9M485.5 598.2V603.7M486.5 598.6V608.9M487.5 603.5V616.3M487.5 602.1V620.6M488.5 611.5V624.6M489.5 617.6V635.6M490.5 630.0V638.6M491.5 632.8V641.4M492.5 630.4V648.8M494.5 645.9V652.6M496.5 636.9V651.7M497.5 630.7V648.3M498.5 636.4V644.6M498.5 626.6V640.4M500.5 624.8V632.9M500.5 614.7V634.7M502.5 603.9V623.7M503.5 598.1V609.6M506.5 595.3V600.7M506.5 596.0V602.1M507.5 596.1V606.0M509.5 596.1V602.2M511.5 600.1V611.3M512.5 607.4V618.1M513.5 608.6V621.1M515.5 618.8V626.7M517.5 614.0V628.2M518.5 600.6V615.9M521.5 592.3V603.1M522.5 596.9V614.5M524.5 606.8V617.0M528.5 597.1V604.9M532.5 584.4V594.8M532.5 575.1V592.0M534.5 576.8V589.5M537.5 591.3V599.8M538.5 595.8V598.8M539.5 592.3V600.2M540.5 589.6V597.1M540.5 585.3V593.3M542.5 578.2V587.6M543.5 581.8V589.4M545.5 589.8V600.9M547.5 591.8V598.3M548.5 595.8V601.4M549.5 592.5V601.0M550.5 590.9V600.8M551.5 588.5V601.2M553.5 587.6V596.2M554.5 584.8V592.4M555.5 584.5V589.4M556.5 583.8V588.9M560.5 591.1V596.1M562.5 590.6V610.6M564.5 605.1V616.5M564.5 613.9V625.1M565.5 615.3V624.1M568.5 603.5V615.9M570.5 596.8V604.5M571.5 599.5V609.2M574.5 610.1V617.6M574.5 612.4V622.0M575.5 613.9V626.7M577.5 623.6V643.6M577.5 632.3V643.8M579.5 640.5V650.9M580.5 648.3V660.4M581.5 654.6V663.0M581.5 656.2V663.6M582.5 651.1V661.3M583.5 649.2V662.1M586.5 637.7V651.3M587.5 638.7V647.7M588.5 635.2V650.0M590.5 629.5V638.0M592.5 612.8V631.3M596.5 591.3V603.5M596.5 587.9V599.5M598.5 589.8V603.6M599.5 584.1V601.1M600.5 579.9V591.1M603.5 572.4V580.0M604.5 570.9V581.5M605.5 572.2V579.8M606.5 571.6V576.7M606.5 571.5V579.5M607.5 570.7V578.2M608.5 570.3V575.9M609.5 565.7V576.6M610.5 573.4V583.2M611.5 572.7V584.8M611.5 574.4V586.1M613.5 585.5V597.1M613.5 590.4V600.6M614.5 591.4V604.0M615.5 591.1V607.0M616.5 585.3V603.8M617.5 577.8V593.8M617.5 568.0V586.0M620.5 540.2V559.6M621.5 541.0V547.9M623.5 542.1V554.5M626.5 554.6V562.0M627.5 554.6V566.8M628.5 557.7V574.6M630.5 557.6V573.8M632.5 553.9V567.7M634.5 575.5V595.5M635.5 586.7V606.7M636.5 599.9V619.9M636.5 611.3V628.3M638.5 625.3V638.0M639.5 639.2V648.2M640.5 640.4V652.3M640.5 641.7V650.8M641.5 642.8V655.1M642.5 641.3V654.7M643.5 638.8V656.3M645.5 620.5V638.6M645.5 613.0V633.0M646.5 601.9V621.9M647.5 595.7V615.7M648.5 588.0V601.0M649.5 581.2V598.8M650.5 579.7V589.5M651.5 578.3V592.5M652.5 588.5V601.3M653.5 587.4V607.4M654.5 602.1V615.1M655.5 609.6V613.7M655.5 600.6V615.1M657.5 592.4V604.9M658.5 585.8V598.6M659.5 574.7V585.6M662.5 578.9V592.6M663.5 584.6V600.0M664.5 578.8V596.4M664.5 574.9V586.2M667.5 595.1V615.1M668.5 604.1V624.1M668.5 615.5V631.5M669.5 621.2V640.1M671.5 639.2V644.7M672.5 640.1V644.8M673.5 636.6V647.7M674.5 643.7V663.7M674.5 654.6V674.3M675.5 667.5V687.5M676.5 677.4V693.9M679.5 689.3V701.8M681.5 672.6V687.7M685.5 657.1V676.2M686.5 678.9V693.3M687.5 677.0V687.7M687.5 669.6V683.2M688.5 670.1V681.1M691.5 654.9V666.2M696.5 646.7V661.1M696.5 654.5V665.4M699.5 680.2V700.2M700.5 689.0V703.8M700.5 693.9V708.1M701.5 694.4V714.4M702.5 704.2V720.9M702.5 710.6V725.4M703.5 714.0V729.3M704.5 725.2V735.9M705.5 720.1V735.5M709.5 679.3V698.1M710.5 677.6V690.3M711.5 675.9V687.4M712.5 675.5V689.2M713.5 672.3V681.5M714.5 669.0V681.0M715.5 666.0V682.7M715.5 672.0V692.0M716.5 681.1V701.1M717.5 691.7V702.2M718.5 689.1V700.0M721.5 666.1V678.8M723.5 664.2V676.9M723.5 666.4V677.4M725.5 674.9V694.9M725.5 688.8V708.8M727.5 711.1V731.1M729.5 730.1V750.1M730.5 711.5V731.5M733.5 686.4V702.2M735.5 677.5V692.2M737.5 696.5V710.4M738.5 704.3V723.6M740.5 722.9V737.4M742.5 706.0V718.1M742.5 696.0V716.0M744.5 708.7V717.2M745.5 715.5V725.4M746.5 716.1V727.5M747.5 710.3V719.7M749.5 697.4V712.6M751.5 700.0V707.1M751.5 696.0V704.2M756.5 670.9V687.8M757.5 669.7V683.5M757.5 667.0V679.5M761.5 699.5V708.0M762.5 701.9V716.7M763.5 703.8V714.1M764.5 706.4V716.6M764.5 708.8V720.9M766.5 706.5V723.9M768.5 721.3V733.3M769.5 717.6V734.7M771.5 709.0V720.7M772.5 699.6V713.0M774.5 712.0V732.0M776.5 721.2V732.4M780.5 692.2V712.2M781.5 689.6V707.6M782.5 690.0V696.7M785.5 688.6V694.6M786.5 683.9V698.6M788.5 676.8V688.9M790.5 664.2V679.3M791.5 658.7V667.7M792.5 656.4V664.5M793.5 653.0V661.3M797.5 637.6V649.4M803.5 617.7V625.5M804.5 613.1V627.9M805.5 618.8V628.1M806.5 623.4V637.1M807.5 626.5V637.8M808.5 632.2V640.7M808.5 631.9V639.9M810.5 634.9V647.7M811.5 639.1V647.5M812.5 639.5V651.2M812.5 639.3V648.8M814.5 640.3V653.9M815.5 642.9V650.0M817.5 642.1V649.3M818.5 646.0V652.9M819.5 646.1V659.3M820.5 647.9V664.2M822.5 660.0V667.8M825.5 675.0V686.8M826.5 675.9V691.1M827.5 679.1V690.0M829.5 663.2V676.6M829.5 658.8V670.0M833.5 667.7V673.2M834.5 656.4V676.4M835.5 662.7V673.5M838.5 651.9V662.5M842.5 652.7V668.5M842.5 657.5V677.4M848.5 675.4V687.9M849.5 675.7V684.4M851.5 667.4V680.4M854.5 655.2V668.9M855.5 656.3V664.6M857.5 655.0V664.1M859.5 651.9V660.8M859.5 649.2V662.1M861.5 647.2V654.9M863.5 643.0V654.7M863.5 642.0V650.7M864.5 638.5V647.7M865.5 637.9V651.2M866.5 638.8V646.2M867.5 634.8V644.8M868.5 634.4V639.9M870.5 639.7V650.6M872.5 639.3V648.4M872.5 640.8V650.5M874.5 644.9V657.0M874.5 640.7V651.7M875.5 632.0V649.2M877.5 634.3V645.5M878.5 638.1V648.5M878.5 640.8V658.5M879.5 643.9V662.0M880.5 653.5V660.8M880.5 650.4V661.9M881.5 646.9V660.8M883.5 629.7V644.4M884.5 633.9V640.0M885.5 634.9V646.6M887.5 638.8V646.2M887.5 640.1V650.1M888.5 640.9V654.0M889.5 639.6V652.2M889.5 644.6V654.2M891.5 646.3V657.2M893.5 646.9V654.4M895.5 647.1V653.4M899.5 639.7V645.0M900.5 636.5V643.8M902.5 633.0V646.2M903.5 633.8V640.7M906.5 629.2V635.2M908.5 627.2V637.0M908.5 630.0V642.3M912.5 635.8V642.1M913.5 628.7V640.4M917.5 622.6V628.6M919.5 621.8V635.0M921.5 621.4V628.2M923.5 620.8V628.7M924.5 619.9V631.7M925.5 623.5V631.8M926.5 619.3V635.9M927.5 629.8V637.4M931.5 623.5V631.9M934.5 618.8V628.6M934.5 618.1V628.5M936.5 613.0V631.5M937.5 617.6V625.2M938.5 617.4V626.4M938.5 617.7V623.3M942.5 595.2V603.4M943.5 597.1V605.6M944.5 594.9V603.1M946.5 597.0V606.3M946.5 599.1V608.9M948.5 603.1V614.2M948.5 603.2V619.8M949.5 608.2V618.1M951.5 617.2V626.7M951.5 616.9V625.3M952.5 612.1V625.2M953.5 619.7V633.0M956.5 625.5V634.0M957.5 623.9V635.4M957.5 627.7V634.3M959.5 629.7V637.5M959.5 627.5V642.6M960.5 635.6V641.3M961.5 637.9V640.9M962.5 633.3V641.9M963.5 612.0V632.0M964.5 613.5V620.4M965.5 614.2V628.0M966.5 618.8V626.5M967.5 618.8V627.3M969.5 615.1V624.0M970.5 610.6V622.0M972.5 610.2V618.6M973.5 607.3V621.6M974.5 608.7V620.5M974.5 611.1V621.8M975.5 613.2V625.7M976.5 613.2V626.2M977.5 618.5V625.4M978.5 619.2V624.3M978.5 622.6V626.9M979.5 621.6V627.1M980.5 621.2V627.7M980.5 621.6V628.3M982.5 618.4V626.1M985.5 617.4V624.7M986.5 617.7V625.5M987.5 615.3V625.9M987.5 618.0V628.0M988.5 623.2V630.6M989.5 619.6V629.5M989.5 624.1V631.5M993.5 624.4V631.1M994.5 622.3V628.1M995.5 613.7V628.1M999.5 600.3V607.1M1002.5 599.7V611.9M1003.5 600.5V610.5M1004.5 598.3V609.5M1005.5 595.8V607.0M1006.5 601.9V610.0M1008.5 597.8V605.1M1009.5 594.1V610.5M1010.5 598.8V607.5M1010.5 596.4V604.4M1012.5 598.1V605.8M1013.5 595.6V603.8M1015.5 595.2V602.0M1016.5 594.7V603.0M1018.5 595.1V599.7M1019.5 595.1V601.2M1019.5 590.2V603.6M1020.5 586.8V604.6M1024.5 587.8V594.0M1025.5 584.3V592.2M1025.5 583.0V587.9M1026.5 584.8V590.3M1027.5 583.9V591.9M1029.5 585.3V598.1M1030.5 587.6V595.0M1031.5 592.8V598.4M1034.5 575.7V592.9M1036.5 573.9V579.9M1038.5 571.6V581.6M1039.5 572.9V582.5M1040.5 573.4V580.2M1040.5 575.4V582.6M1041.5 573.8V580.5M1043.5 575.1V582.0M1044.5 568.4V575.8M1046.5 565.4V575.9M1050.5 557.0V572.9M1051.5 561.0V570.4M1053.5 557.1V564.3M1053.5 553.8V565.6M1054.5 550.7V560.3M1055.5 549.4V556.1M1055.5 548.7V557.1M1058.5 551.6V559.3M1059.5 551.9V558.3M1061.5 548.4V557.9M1061.5 546.6V553.7M1063.5 542.6V550.5M1065.5 543.1V551.0M1066.5 541.7V554.3M1067.5 541.1V558.6M1068.5 546.8V560.2M1069.5 543.9V559.4M1070.5 550.0V559.6M1070.5 539.2V559.2M1072.5 520.9V539.6M1073.5 534.5V554.5M1074.5 548.7V561.1M1074.5 543.0V559.4M1076.5 533.4V547.1M1076.5 530.8V545.5M1078.5 524.3V540.7M1080.5 542.1V559.0M1080.5 549.0V563.0M1081.5 555.7V563.1M1082.5 547.1V559.1M1084.5 543.1V550.7M1086.5 528.3V543.1M1088.5 537.0V553.0M1089.5 544.2V559.3M1089.5 548.1V568.1M1091.5 565.5V575.3M1091.5 571.3V581.1M1094.5 565.7V575.5M1097.5 552.2V563.3M1097.5 555.4V564.2M1101.5 537.7V549.8M1103.5 530.4V546.0M1105.5 528.4V534.9M1106.5 528.5V536.4M1106.5 527.9V535.8M1107.5 529.6V537.6M1108.5 529.2V545.0M1109.5 540.1V550.6M1110.5 546.0V553.3M1113.5 542.0V548.4M1114.5 540.6V545.7M1115.5 535.9V543.8M1116.5 532.1V550.8M1122.5 518.8V526.3M1123.5 518.3V523.3M1123.5 517.1V524.1M1125.5 517.8V524.0M1128.5 517.6V528.4M1130.5 518.7V525.8M1133.5 515.1V519.0M1133.5 514.5V528.4M1135.5 517.1V531.4M1136.5 523.2V530.9M1138.5 522.1V535.7M1138.5 527.9V533.9M1139.5 528.3V532.5M1140.5 524.3V531.9M1141.5 521.6V535.0M1142.5 524.8V532.0M1142.5 521.9V529.8M1143.5 527.2V534.6M1144.5 523.8V536.2M1144.5 526.2V533.7M1146.5 534.3V542.7M1146.5 532.3V541.5M1147.5 528.7V542.2M1148.5 532.4V543.9M1150.5 529.4V540.3M1150.5 527.8V538.0M1155.5 527.2V534.1M1156.5 523.5V529.5M1157.5 524.3V530.3M1157.5 525.9V535.4M1158.5 528.3V533.9M1159.5 530.3V534.9M1161.5 522.3V532.3M1162.5 523.5V529.5M1163.5 521.1V526.2M1163.5 521.2V530.1M1164.5 522.2V529.2M1165.5 522.8V528.3M1167.5 521.1V532.6M1169.5 520.7V527.0M1169.5 521.2V530.2M1172.5 520.7V526.9M1172.5 521.3V524.3M1173.5 521.2V524.2M1174.5 520.2V534.2M1177.5 531.4V537.4M1178.5 527.5V537.1M1179.5 528.9V534.8M1181.5 532.8V544.6M1182.5 537.6V543.9M1182.5 540.3V546.5M1183.5 536.4V544.6M1184.5 537.4V543.8M1185.5 533.5V546.5M1187.5 539.1V550.4M1188.5 537.3V548.1M1189.5 537.9V550.2M1189.5 542.7V553.1M1190.5 546.3V559.0M1191.5 549.8V560.6M1193.5 554.4V561.6M1195.5 561.9V567.2M1199.5 554.9V561.1M1201.5 549.2V561.4M1201.5 551.0V558.6M1203.5 552.4V558.0M1204.5 549.0V555.0M1205.5 550.3V556.6M1206.5 550.9V559.6M1207.5 554.6V562.2M1208.5 553.5V559.9M1210.5 555.5V564.1M1211.5 556.9V566.2M1213.5 565.1V573.0M1214.5 565.4V577.5M1215.5 570.8V580.2M1216.5 574.1V579.9M1216.5 570.6V579.6M1219.5 562.7V571.6M1221.5 563.1V569.5M1222.5 564.4V576.1M1223.5 564.4V576.8M1223.5 567.0V576.6M1224.5 568.5V574.8M1228.5 563.4V576.8M1229.5 565.8V573.0M1231.5 566.2V574.0M1232.5 567.5V572.4M1233.5 569.5V575.2M1235.5 571.5V585.8M1237.5 569.3V587.0M1237.5 571.9V582.9M1238.5 572.0V580.0M1239.5 574.4V585.3M1240.5 576.5V587.2M1242.5 587.5V592.7M1243.5 579.4V590.6M1244.5 576.2V585.7M1245.5 574.0V582.0M1248.5 570.3V588.9M1248.5 572.0V579.4M1250.5 571.2V581.9M1254.5 568.5V579.8M1255.5 563.4V575.7M1256.5 572.3V578.9M1257.5 576.7V581.1M1257.5 576.3V581.8M1261.5 553.6V566.2M1262.5 552.5V563.2M1263.5 555.2V563.7M1263.5 553.6V564.7M1265.5 556.5V564.6M1265.5 553.7V565.9M1266.5 553.3V560.7M1267.5 552.4V561.0M1267.5 554.1V558.9M1268.5 554.8V560.2M1269.5 553.6V563.1M1269.5 557.9V566.0M1270.5 554.4V567.7M1271.5 561.5V573.0M1273.5 568.6V576.5M1274.5 573.7V583.4M1275.5 574.4V585.4M1276.5 574.4V591.2M1277.5 585.6V596.2M1279.5 603.3V613.6M1280.5 607.0V618.1M1282.5 612.6V629.7M1282.5 621.5V630.3M1283.5 620.4V636.3M1284.5 625.6V641.7M1285.5 631.9V641.8M1286.5 634.5V654.5M1286.5 639.6V653.9M1287.5 641.7V651.9M1288.5 642.9V655.4M1289.5 646.2V662.7M1290.5 634.9V654.9M1291.5 630.4V648.9M1293.5 626.8V636.5M1294.5 629.9V639.8M1295.5 634.9V645.9M1296.5 640.9V650.1M1297.5 643.6V662.4M1298.5 648.8V659.4M1299.5 644.4V652.9M1301.5 641.1V649.0M1301.5 638.3V647.3M1302.5 632.8V645.5M1303.5 633.7V645.9M1303.5 632.5V642.2M1304.5 632.3V641.2M1307.5 630.4V638.0M1308.5 637.0V644.6M1309.5 639.0V646.3M1310.5 639.7V650.3M1310.5 644.0V650.5M1311.5 640.6V651.5M1312.5 645.9V654.0M1312.5 642.5V656.9M1313.5 645.2V658.7M1314.5 650.5V657.7M1314.5 654.7V663.4M1316.5 655.7V668.0M1318.5 664.3V675.2M1319.5 665.7V676.2M1320.5 670.1V675.8M1322.5 662.5V672.3M1325.5 654.6V665.8M1327.5 651.1V660.8M1327.5 653.1V660.0M1329.5 657.0V663.9M1330.5 655.9V664.8M1331.5 657.3V669.6M1333.5 665.2V677.4M1333.5 664.4V681.3M1335.5 673.4V687.3M1335.5 678.2V691.5M1337.5 695.3V711.2M1340.5 719.3V722.7M1344.5 699.0V711.8M1346.5 698.8V711.8M1346.5 700.1V714.2M1347.5 703.9V710.3M1348.5 705.7V713.2M1348.5 701.9V719.9M1350.5 712.6V726.6M1352.5 718.6V726.1M1353.5 716.9V727.3M1354.5 710.8V730.8M1354.5 726.5V746.5M1355.5 734.3V753.8M1356.5 759.0V775.6M1357.5 764.7V776.4M1362.5 730.6V744.9M1363.5 731.2V738.9M1365.5 723.0V735.7M1367.5 725.2V734.6M1368.5 724.2V735.9M1369.5 722.2V732.9M1372.5 732.3V743.0M1373.5 739.5V747.3M1374.5 740.9V750.0M1376.5 742.9V749.3M1379.5 725.8V736.2M1380.5 724.0V732.4M1381.5 721.8V732.0M1382.5 719.9V733.6M1382.5 723.7V733.6M1384.5 730.8V743.9M1388.5 727.3V738.3M1388.5 726.2V736.3M1389.5 721.1V732.3M1390.5 721.3V730.9M1390.5 719.4V727.9M1391.5 721.1V726.0M1392.5 718.3V725.6M1393.5 714.5V724.6M1394.5 709.5V723.0M1395.5 711.1V715.6M1397.5 707.6V717.7M1397.5 703.3V712.8M1401.5 699.7V704.8M1403.5 700.3V703.3M1404.5 698.2V709.5M1405.5 700.3V704.5M1405.5 700.3V708.2M1407.5 698.7V709.0M1408.5 699.1V711.3M1410.5 705.9V716.4M1412.5 713.7V724.4M1413.5 718.2V729.5M1415.5 725.0V739.3M1418.5 725.9V742.1M1421.5 715.9V727.2M1422.5 719.2V723.4M1424.5 719.6V733.9M1425.5 723.4V733.5M1426.5 718.9V734.1M1427.5 723.5V732.0M1428.5 727.1V734.2M1431.5 724.9V741.5M1431.5 730.8V743.3M1432.5 729.5V749.5M1434.5 742.0V747.2M1435.5 736.1V750.4M1435.5 738.2V748.9M1436.5 743.9V750.8M1437.5 744.6V751.0M1437.5 745.3V751.5M1438.5 737.8V750.7M1439.5 740.3V751.4M1441.5 736.3V744.7M1441.5 730.9V740.7M1442.5 729.6V736.6M1444.5 728.2V738.3M1446.5 723.2V733.7M1447.5 722.5V729.5M1448.5 718.0V725.0M1448.5 717.8V730.5M1449.5 716.1V727.3M1450.5 712.7V721.9M1453.5 695.2V710.3M1454.5 691.4V699.6M1456.5 692.9V701.8M1456.5 696.1V703.9M1457.5 697.1V708.7M1458.5 702.8V712.3M1459.5 701.9V716.6M1461.5 707.6V718.3M1461.5 710.3V717.3M1465.5 706.1V716.6M1466.5 702.3V717.4M1468.5 714.6V722.0M1469.5 711.1V722.8M1469.5 716.0V726.3M1471.5 716.7V725.6M1473.5 707.9V715.4M1475.5 702.9V710.6M1477.5 702.4V707.7M1479.5 705.4V710.7M1483.5 704.8V710.4M1484.5 703.7V718.2M1485.5 710.5V721.7M1486.5 711.7V723.0M1486.5 714.1V729.6M1488.5 723.7V733.3M1489.5 733.4V744.5M1495.5 717.9V727.5M1496.5 714.4V727.8M1497.5 710.1V720.1M1500.5 705.4V711.5M1501.5 705.7V712.4M1501.5 705.1V716.2M1506.5 711.4V731.1M1507.5 704.4V718.4M1508.5 705.7V725.7M1509.5 720.5V737.1M1509.5 725.3V738.1M1511.5 717.2V728.5M1512.5 705.7V721.8M1514.5 688.2V705.7M1515.5 682.7V696.9M1516.5 667.4V681.8M1522.5 655.1V665.8M1527.5 646.9V660.2M1528.5 651.9V665.0M1529.5 655.5V669.6M1529.5 659.2V670.1M1531.5 661.9V673.2M1535.5 677.5V681.0M1537.5 671.5V679.0M1538.5 667.5V676.9M1539.5 663.5V672.0M1541.5 668.5V680.5M1542.5 671.7V681.1M1549.5 624.4V644.4M1550.5 620.4V635.0M1550.5 618.5V626.1M1552.5 622.3V630.7M1552.5 620.4V640.4M1553.5 626.0V639.8M1554.5 634.3V642.1M1556.5 634.8V643.3M1557.5 623.1V640.0M1558.5 620.6V628.8M1559.5 611.5V625.6M1560.5 612.7V620.9M1560.5 610.0V625.2M1561.5 608.3V620.0M1565.5 588.8V601.4M1567.5 587.4V599.2M1568.5 586.1V594.9M1571.5 589.4V599.8M1571.5 589.9V600.9M1573.5 574.4V594.4M1573.5 567.3V584.8M1574.5 556.3V576.3M1575.5 551.0V571.0M1575.5 545.3V559.4M1576.5 540.7V551.4M1577.5 531.7V540.4M1578.5 531.8V544.6M1579.5 533.6V553.2M1580.5 551.7V564.8M1583.5 544.5V557.3M1584.5 547.0V556.4M1587.5 560.0V576.9M1588.5 563.0V580.4M1588.5 569.5V589.5M1589.5 578.6V591.1M1590.5 587.3V605.8M1591.5 590.9V608.1M1593.5 597.1V608.2M1594.5 591.0V604.2M1595.5 591.0V599.9M1596.5 585.4V594.5M1599.5 577.9V593.2M1601.5 583.7V596.4M1603.5 591.6V599.0M1603.5 587.4V597.5M1605.5 577.2V592.1M1606.5 569.3V586.9M1611.5 552.4V569.1M1612.5 566.6V577.9M1615.5 527.3V547.3M1616.5 516.6V528.9M1616.5 521.4V534.9M1617.5 525.5V541.2M1618.5 537.8V551.5M1620.5 542.6V554.4M1620.5 547.5V559.9M1621.5 550.7V569.4M1622.5 532.5V552.5M1623.5 512.0V532.0M1624.5 477.4V497.4M1625.5 479.4V487.7M1628.5 477.6V495.2M1630.5 472.0V487.2M1631.5 468.5V481.1M1632.5 472.6V485.6M1633.5 471.6V491.6M1635.5 496.9V507.2M1636.5 499.5V512.0M1637.5 508.7V518.7M1638.5 512.5V523.3M1639.5 508.4V521.1M1640.5 502.1V520.9M1643.5 497.6V517.6M1643.5 508.6V525.1M1647.5 471.9V488.9M1650.5 448.1V459.4M1652.5 441.4V454.9M1654.5 437.5V446.2M1654.5 436.2V448.1M1658.5 460.2V469.8M1660.5 472.7V488.3M1661.5 471.8V491.8M1662.5 483.5V493.5M1662.5 482.5V495.0M1665.5 453.5V467.7M1666.5 456.6V472.3M1667.5 461.7V481.7M1668.5 473.9V489.5M1669.5 482.5V494.5M1670.5 485.6V494.4M1671.5 491.8V494.8M1672.5 492.6V495.9M1673.5 490.9V493.9M1674.5 486.9V494.5M1675.5 485.1V490.2M1675.5 480.5V492.8M1680.5 446.7V461.4M1681.5 436.6V454.4M1682.5 432.7V451.2M1683.5 424.1V438.2M1684.5 425.3V435.2M1684.5 423.9V429.9M1685.5 425.9V428.9M1686.5 424.6V430.8M1690.5 444.8V454.9M1690.5 451.8V461.3M1691.5 454.6V461.3M1692.5 443.3V457.4M1696.5 429.5V434.7M1697.5 428.9V434.3M1698.5 427.8V439.2M1699.5 426.9V438.1M1703.5 421.2V426.3M1704.5 420.3V431.5M1705.5 425.0V433.4M1707.5 425.8V432.0M1709.5 432.9V440.2M1710.5 434.2V444.4M1711.5 435.0V443.6M1711.5 441.0V444.0M1716.5 421.8V431.8M1716.5 423.3V428.8M1717.5 421.1V429.0M1718.5 414.9V430.7M1719.5 413.5V419.5M1720.5 412.7V421.5" stroke="#d34c5c" stroke-width="1" fill="none" opacity="0.78"/>
<path d="M8 413.5H1846" stroke="#33a78b" stroke-width="1.4" stroke-dasharray="1.4 1.7" fill="none"/>
<path d="M226.5 1V982" stroke="#787b84" stroke-width="1" stroke-dasharray="5.5 6.1" fill="none"/>
<path d="M494.4 380.6L492.5 379.7L490.1 378.7L487.2 377.5L484.1 376.1L480.6 374.6L476.9 373.0L473.1 371.4L469.1 369.7L465.1 368.1L461.1 366.5L457.1 365.0L453.3 363.7L449.5 362.4L445.7 361.1L441.7 359.8L437.7 358.5L433.6 357.3L429.5 356.1L425.4 354.9L421.3 353.8L417.3 352.7L413.3 351.7L409.4 350.7L405.6 349.8L401.9 349.0L398.2 348.2L394.5 347.5L390.9 346.9L387.3 346.3L383.7 345.7L380.3 345.2L376.9 344.8L373.6 344.4L370.4 344.0L367.3 343.6L364.3 343.3L361.5 343.1L358.8 342.8L356.3 342.6L353.9 342.5L351.5 342.4L349.3 342.3L347.0 342.2L344.8 342.2L342.5 342.3L340.2 342.4L337.9 342.5L335.4 342.6L332.8 342.8L330.2 343.0L327.6 343.2L324.9 343.5L322.2 343.8L319.4 344.1L316.7 344.5L313.9 345.0L311.2 345.5L308.5 346.0L305.8 346.6L303.2 347.3L300.6 348.1L298.1 348.9L295.5 349.8L293.0 350.8L290.4 351.8L288.0 352.9L285.5 354.0L283.1 355.1L280.7 356.4L278.4 357.6L276.1 358.9L273.9 360.2L271.8 361.6L269.6 363.0L267.6 364.5L265.6 366.0L263.6 367.6L261.6 369.2L259.8 370.8L257.9 372.5L256.1 374.3L254.4 376.1L252.7 377.9L251.0 379.8L249.4 381.7L247.8 383.7L246.3 385.8L244.9 387.9L243.4 390.0L242.1 392.2L240.7 394.4L239.5 396.6L238.2 398.9L237.0 401.2L235.9 403.5L234.8 405.9L233.7 408.3L232.7 410.7L231.8 413.1L230.9 415.6L230.0 418.1L229.2 420.7L228.4 423.3L227.6 425.9L226.9 428.5L226.3 431.2L225.7 433.9L225.1 436.6L224.5 439.4L224.0 442.2L223.5 445.1L223.1 448.1L222.7 451.0L222.4 454.0L222.1 457.0L221.8 460.0L221.6 463.0L221.4 466.0L221.3 469.0L221.2 471.9L221.2 474.9L221.2 477.8L221.2 480.7L221.3 483.6L221.5 486.5L221.7 489.4L221.9 492.3L222.2 495.2L222.4 498.1L222.7 501.1L223.1 504.1L223.4 507.1L223.8 510.2L224.2 513.3L224.6 516.4L225.1 519.6L225.6 522.8L226.1 526.0L226.7 529.2L227.3 532.4L227.9 535.6L228.5 538.8L229.1 542.0L229.8 545.2L230.5 548.4L231.2 551.6L231.9 554.9L232.7 558.1L233.5 561.4L234.3 564.7L235.1 567.9L235.9 571.1L236.8 574.3L237.6 577.4L238.5 580.4L239.3 583.4L240.2 586.3L241.2 589.2L242.1 592.1L243.1 595.0L244.1 597.8L245.1 600.5L246.0 603.2L247.0 605.8L247.9 608.3L248.8 610.7L249.6 612.9L250.4 615.1L251.1 617.1L251.9 619.1L252.6 621.0L253.3 622.8L253.9 624.5L254.6 626.1L255.2 627.7L255.7 629.0L256.2 630.3L256.6 631.4L257.0 632.4L257.3 633.2L263.7 630.8L263.3 629.9L263.0 628.9L262.5 627.8L262.0 626.6L261.5 625.2L260.9 623.7L260.3 622.1L259.6 620.4L259.0 618.6L258.3 616.7L257.5 614.8L256.8 612.7L256.0 610.6L255.2 608.3L254.3 605.9L253.4 603.5L252.4 600.9L251.5 598.2L250.5 595.5L249.5 592.8L248.6 590.0L247.6 587.1L246.7 584.3L245.9 581.4L245.0 578.5L244.2 575.5L243.3 572.5L242.5 569.4L241.7 566.2L240.9 563.0L240.1 559.8L239.3 556.6L238.5 553.4L237.8 550.1L237.1 547.0L236.4 543.8L235.8 540.7L235.2 537.5L234.5 534.3L234.0 531.2L233.4 528.0L232.8 524.8L232.3 521.7L231.8 518.6L231.4 515.4L230.9 512.4L230.5 509.3L230.2 506.3L229.8 503.3L229.5 500.4L229.2 497.5L228.9 494.6L228.7 491.7L228.5 488.9L228.3 486.1L228.1 483.3L228.0 480.5L228.0 477.7L228.0 474.9L228.0 472.1L228.1 469.2L228.2 466.3L228.4 463.4L228.6 460.5L228.9 457.6L229.1 454.7L229.5 451.8L229.9 449.0L230.3 446.2L230.7 443.4L231.2 440.7L231.7 438.0L232.3 435.4L232.9 432.8L233.5 430.2L234.2 427.7L234.9 425.2L235.6 422.7L236.4 420.3L237.3 417.9L238.1 415.6L239.0 413.2L240.0 411.0L241.0 408.7L242.0 406.5L243.1 404.3L244.2 402.1L245.4 399.9L246.6 397.8L247.9 395.7L249.1 393.7L250.5 391.7L251.8 389.8L253.2 387.9L254.7 386.0L256.2 384.2L257.7 382.5L259.3 380.7L260.9 379.1L262.6 377.5L264.3 375.9L266.1 374.3L267.9 372.8L269.7 371.4L271.6 370.0L273.5 368.6L275.5 367.3L277.5 366.0L279.5 364.7L281.7 363.5L283.9 362.3L286.1 361.1L288.4 360.0L290.7 359.0L293.0 357.9L295.4 357.0L297.8 356.1L300.2 355.2L302.6 354.4L305.0 353.7L307.4 353.0L309.9 352.4L312.5 351.8L315.0 351.3L317.7 350.9L320.3 350.5L322.9 350.2L325.6 349.9L328.2 349.6L330.8 349.4L333.3 349.2L335.8 349.0L338.2 348.8L340.5 348.7L342.7 348.6L344.9 348.5L347.0 348.5L349.1 348.5L351.3 348.6L353.5 348.7L355.9 348.8L358.3 349.0L360.9 349.2L363.7 349.5L366.6 349.8L369.7 350.1L372.9 350.4L376.1 350.8L379.5 351.3L382.9 351.7L386.4 352.2L389.9 352.8L393.5 353.4L397.1 354.1L400.7 354.8L404.4 355.6L408.1 356.4L411.9 357.3L415.8 358.3L419.8 359.4L423.8 360.5L427.9 361.6L432.0 362.8L436.0 364.0L440.0 365.2L443.9 366.5L447.8 367.7L451.5 368.9L455.2 370.2L459.1 371.7L463.0 373.2L467.0 374.8L471.0 376.4L474.8 378.0L478.5 379.5L481.9 381.0L485.1 382.4L488.0 383.6L490.4 384.6L492.4 385.4Z" fill="url(#ga1)"/><circle cx="493.4" cy="383.0" r="2.6" fill="#45c8dc"/>
<path d="M252.500 634L267.500 627L266 646Z" fill="#6a3cf5" stroke="#6a3cf5" stroke-width="2" stroke-linejoin="round"/>
<path d="M1137.5 241.5L1137.7 242.7L1138.0 244.2L1138.2 245.9L1138.5 247.9L1138.8 250.0L1139.2 252.3L1139.6 254.6L1139.9 257.1L1140.4 259.5L1140.8 262.0L1141.2 264.3L1141.6 266.6L1142.0 268.9L1142.5 271.1L1142.9 273.5L1143.4 275.8L1143.9 278.1L1144.4 280.5L1144.9 282.9L1145.5 285.3L1146.0 287.7L1146.6 290.1L1147.1 292.5L1147.7 294.8L1148.3 297.2L1148.9 299.5L1149.6 301.9L1150.2 304.3L1150.9 306.6L1151.5 309.0L1152.2 311.4L1152.9 313.7L1153.6 316.1L1154.4 318.4L1155.1 320.7L1155.9 323.0L1156.6 325.3L1157.4 327.6L1158.2 329.8L1159.0 332.1L1159.8 334.3L1160.7 336.6L1161.5 338.8L1162.4 341.0L1163.3 343.2L1164.2 345.3L1165.1 347.5L1166.0 349.6L1167.0 351.7L1167.9 353.8L1168.9 355.9L1169.9 358.0L1170.9 360.0L1171.9 362.1L1172.9 364.1L1173.9 366.1L1175.0 368.1L1176.0 370.1L1177.1 372.0L1178.2 374.0L1179.3 375.9L1180.5 377.9L1181.6 379.8L1182.8 381.7L1183.9 383.7L1185.1 385.6L1186.3 387.5L1187.6 389.3L1188.8 391.1L1190.0 392.9L1191.3 394.6L1192.5 396.3L1193.7 397.9L1195.0 399.5L1196.3 401.0L1197.5 402.5L1198.8 403.9L1200.1 405.3L1201.4 406.7L1202.7 408.0L1204.0 409.3L1205.3 410.5L1206.7 411.7L1208.0 412.9L1209.4 414.0L1210.8 415.0L1212.1 416.0L1213.5 417.0L1214.9 417.9L1216.3 418.8L1217.7 419.6L1219.1 420.4L1220.5 421.2L1221.9 421.9L1223.3 422.6L1224.7 423.3L1226.1 423.9L1227.5 424.5L1228.9 425.0L1230.2 425.5L1231.6 426.0L1233.0 426.4L1234.4 426.8L1235.8 427.2L1237.2 427.5L1238.6 427.9L1240.0 428.2L1241.4 428.5L1242.9 428.7L1244.4 429.0L1245.9 429.2L1247.5 429.4L1249.0 429.6L1250.6 429.7L1252.2 429.9L1253.8 430.0L1255.3 430.1L1256.9 430.1L1258.5 430.1L1260.1 430.1L1261.6 430.1L1263.1 430.0L1264.6 429.9L1266.1 429.8L1267.6 429.7L1269.1 429.5L1270.6 429.3L1272.2 429.0L1273.8 428.8L1275.4 428.5L1277.0 428.1L1278.7 427.7L1280.3 427.3L1281.9 427.0L1283.6 426.6L1285.2 426.2L1286.9 425.7L1288.6 425.2L1290.4 424.7L1292.3 424.0L1294.4 423.2L1296.5 422.4L1298.8 421.4L1301.3 420.2L1303.9 418.9L1306.8 417.5L1309.8 415.9L1312.9 414.3L1316.1 412.5L1319.4 410.6L1322.8 408.7L1326.2 406.7L1329.6 404.7L1333.0 402.7L1336.4 400.6L1339.6 398.5L1342.9 396.4L1346.2 394.2L1349.5 391.9L1352.9 389.6L1356.2 387.2L1359.5 384.8L1362.8 382.4L1366.1 380.0L1369.3 377.6L1372.4 375.3L1375.4 373.0L1378.2 370.8L1381.0 368.6L1383.6 366.5L1386.2 364.4L1388.6 362.4L1391.0 360.4L1393.3 358.4L1395.6 356.4L1397.9 354.4L1400.2 352.3L1402.4 350.2L1404.7 348.0L1407.1 345.7L1409.6 343.3L1412.2 340.6L1414.9 337.8L1417.6 334.9L1420.3 331.9L1423.0 329.0L1425.6 326.2L1428.0 323.5L1430.2 321.0L1432.2 318.8L1433.9 317.0L1435.2 315.5L1430.8 311.5L1429.4 313.0L1427.7 314.8L1425.8 317.0L1423.5 319.5L1421.1 322.2L1418.6 325.0L1415.9 327.9L1413.2 330.8L1410.5 333.7L1407.9 336.5L1405.3 339.1L1402.9 341.5L1400.6 343.7L1398.3 345.8L1396.1 347.9L1393.9 349.9L1391.6 351.9L1389.4 353.9L1387.1 355.9L1384.8 357.8L1382.4 359.8L1379.9 361.8L1377.3 363.9L1374.6 366.0L1371.7 368.2L1368.7 370.5L1365.7 372.9L1362.5 375.2L1359.3 377.6L1356.0 380.0L1352.7 382.3L1349.4 384.7L1346.1 387.0L1342.8 389.2L1339.6 391.4L1336.4 393.5L1333.2 395.5L1329.9 397.5L1326.6 399.6L1323.2 401.6L1319.8 403.5L1316.5 405.4L1313.2 407.2L1310.0 409.0L1307.0 410.6L1304.0 412.1L1301.3 413.5L1298.7 414.8L1296.4 415.9L1294.2 416.8L1292.2 417.6L1290.3 418.3L1288.6 419.0L1286.9 419.5L1285.3 419.9L1283.7 420.4L1282.1 420.7L1280.6 421.1L1279.0 421.5L1277.3 421.9L1275.7 422.3L1274.2 422.6L1272.7 422.9L1271.2 423.1L1269.8 423.3L1268.4 423.5L1267.0 423.7L1265.6 423.8L1264.2 423.9L1262.8 424.0L1261.4 424.1L1259.9 424.1L1258.5 424.1L1257.0 424.1L1255.6 424.1L1254.1 424.0L1252.6 423.9L1251.1 423.8L1249.7 423.6L1248.2 423.5L1246.8 423.3L1245.4 423.0L1244.0 422.8L1242.6 422.5L1241.2 422.3L1239.9 422.0L1238.6 421.7L1237.3 421.3L1236.0 421.0L1234.8 420.6L1233.5 420.2L1232.3 419.8L1231.0 419.3L1229.8 418.9L1228.6 418.3L1227.3 417.7L1226.0 417.1L1224.7 416.5L1223.4 415.8L1222.1 415.1L1220.8 414.4L1219.5 413.6L1218.3 412.8L1217.0 411.9L1215.7 411.0L1214.5 410.1L1213.2 409.2L1212.0 408.1L1210.8 407.1L1209.5 406.0L1208.3 404.8L1207.1 403.6L1205.9 402.4L1204.7 401.1L1203.4 399.8L1202.2 398.4L1201.1 397.0L1199.9 395.5L1198.7 394.0L1197.5 392.5L1196.3 390.9L1195.2 389.3L1194.0 387.6L1192.8 385.8L1191.7 384.0L1190.5 382.2L1189.3 380.4L1188.2 378.5L1187.1 376.6L1186.0 374.7L1184.9 372.7L1183.8 370.8L1182.7 368.9L1181.7 367.0L1180.6 365.1L1179.6 363.1L1178.6 361.2L1177.6 359.2L1176.7 357.2L1175.7 355.2L1174.7 353.2L1173.8 351.1L1172.9 349.1L1172.0 347.0L1171.1 344.9L1170.2 342.8L1169.3 340.7L1168.5 338.6L1167.6 336.4L1166.8 334.2L1166.0 332.0L1165.2 329.9L1164.4 327.6L1163.7 325.4L1162.9 323.2L1162.1 321.0L1161.4 318.7L1160.7 316.4L1160.0 314.1L1159.3 311.8L1158.6 309.5L1158.0 307.2L1157.3 304.9L1156.7 302.5L1156.1 300.2L1155.5 297.8L1154.9 295.5L1154.3 293.2L1153.7 290.9L1153.2 288.5L1152.6 286.2L1152.1 283.8L1151.6 281.5L1151.1 279.1L1150.6 276.8L1150.1 274.4L1149.7 272.1L1149.2 269.8L1148.8 267.6L1148.4 265.4L1148.0 263.1L1147.6 260.8L1147.2 258.4L1146.8 256.0L1146.4 253.6L1146.1 251.2L1145.7 249.0L1145.4 246.9L1145.1 244.9L1144.9 243.2L1144.6 241.7L1144.5 240.5Z" fill="url(#ga2)"/><circle cx="1141.0" cy="241.0" r="3.5" fill="#6d35f5"/>
<path d="M1442 301.800L1425.200 308.900L1439.400 318.600Z" fill="#45c4da" stroke="#45c4da" stroke-width="2" stroke-linejoin="round"/>
</svg>
<div class="t" style="left:130.0px;top:679.4px;font-size:9.75px;line-height:12px;color:#f0b98a;transform:scaleX(0.9840);">Sydney</div>
<div class="t" style="left:185.5px;top:676.9px;font-size:9.75px;line-height:12px;color:#8ab4f8;transform:scaleX(0.9490);">Asia</div>
<div class="t" style="left:225.5px;top:678.9px;font-size:9.75px;line-height:12px;color:#3cc3d4;transform:scaleX(1.0209);">Tokyo</div>
<div class="t" style="left:277.0px;top:666.4px;font-size:9.75px;line-height:12px;color:#f0464a;transform:scaleX(0.9708);">Shanghai</div>
<div class="t" style="left:528.5px;top:521.5px;font-size:9.75px;line-height:12px;color:#bce6b8;transform:scaleX(0.9861);">Europe</div>
<div class="t" style="left:603.3px;top:521.5px;font-size:9.75px;line-height:12px;color:#a6afe6;transform:scaleX(1.0144);">London</div>
<div class="t" style="left:826.5px;top:576.2px;font-size:9.75px;line-height:12px;color:#b9a8ef;transform:scaleX(1.0440);">New York</div>
<div class="t" style="left:1068.0px;top:493.4px;font-size:9.75px;line-height:12px;color:#f0b98a;transform:scaleX(0.9840);">Sydney</div>
<div class="t" style="left:1122.0px;top:490.9px;font-size:9.75px;line-height:12px;color:#8ab4f8;transform:scaleX(0.9490);">Asia</div>
<div class="t" style="left:1163.0px;top:493.4px;font-size:9.75px;line-height:12px;color:#3cc3d4;transform:scaleX(1.0209);">Tokyo</div>
<div class="t" style="left:1213.5px;top:493.4px;font-size:9.75px;line-height:12px;color:#f0464a;transform:scaleX(0.9708);">Shanghai</div>
<div class="t" style="left:1466.5px;top:402.9px;font-size:9.75px;line-height:12px;color:#cfeccf;transform:scaleX(0.9861);">Europe</div>
<div class="t" style="left:1541.0px;top:402.9px;font-size:9.75px;line-height:12px;color:#b9c0e6;transform:scaleX(1.0144);">London</div>
<div class="t" style="left:1681.5px;top:392.9px;font-size:9.75px;line-height:12px;color:#b9a8ef;transform:scaleX(1.0440);">New York</div>
<div class="b" style="left:16px;top:11px;width:18px;height:18px;border-radius:50%;background:#dba400"></div>
<svg class="b" style="left:16px;top:11px" width="18" height="18" viewBox="0 0 18 18"><path d="M6.2 8.2L7 6h4l.8 2.2zM3 12.3l.9-2.6h4.2l.9 2.6zM9 12.3l.9-2.6h4.2l.9 2.6z" fill="#fff6b0"/></svg>
<div class="t" style="left:39.0px;top:10.8px;font-size:16px;line-height:19px;color:#131722;transform:scaleX(0.9834);-webkit-text-stroke:0.3px;">CFDs on Gold (US$ / OZ) · 1 · TVC</div>
<div class="b" style="left:304px;top:10.500px;width:42px;height:18px;border-radius:9px;background:linear-gradient(90deg,#d6efe8 0,#d6efe8 20.800px,#f4a9c5 20.800px);overflow:hidden"></div>
<div class="b" style="left:311px;top:15.400px;width:8.800px;height:8.800px;border-radius:50%;background:#0a9981"></div>
<div class="t" style="left:330.9px;top:10.3px;font-size:15px;line-height:18px;color:#e0286a;font-weight:bold;">≈</div>
<div class="t" style="left:362px;top:12px;font-size:13px;line-height:16px;transform:scaleX(1.0641);white-space:pre"><span style="color:#131722">O</span><span style="color:#e2334d">2,625.300</span><span style="color:#131722"> H</span><span style="color:#e2334d">2,625.520</span><span style="color:#131722"> L</span><span style="color:#e2334d">2,624.385</span><span style="color:#131722"> C</span><span style="color:#e2334d">2,624.474</span><span style="color:#e2334d"> −0.826 (−0.03%)</span></div>
<div class="b" style="left:15px;top:37.4px;width:84px;height:35.2px;border:1px solid #f23645;border-radius:6px;background:#fff"></div>
<div class="t" style="left:26.5px;top:40.5px;font-size:13px;line-height:16px;color:#f23645;transform:scaleX(1.0549);">2,650.570</div>
<div class="t" style="left:44.0px;top:56.5px;font-size:12px;line-height:14px;color:#f23645;transform:scaleX(0.8516);">SELL</div>
<div class="t" style="left:108.0px;top:49.3px;font-size:11px;line-height:13px;color:#131722;transform:scaleX(0.9125);">110</div>
<div class="b" style="left:133px;top:37.4px;width:84px;height:35.2px;border:1px solid #2962ff;border-radius:6px;background:#fff"></div>
<div class="t" style="left:145.0px;top:40.5px;font-size:13px;line-height:16px;color:#2962ff;transform:scaleX(1.0549);">2,650.680</div>
<div class="t" style="left:164.0px;top:56.5px;font-size:12px;line-height:14px;color:#2962ff;transform:scaleX(0.8916);">BUY</div>
<div class="b" style="left:11px;top:77px;width:1195px;height:25px;border:1px solid #2c63e0;border-radius:4px;background:#fff"></div>
<div class="t" style="left:16.0px;top:82.0px;font-size:13px;line-height:16px;color:#131722;transform:scaleX(1.0081);-webkit-text-stroke:0.35px;">TFlab Sessions Daylight Saving</div>
<div class="t" style="left:205.0px;top:82.0px;font-size:13px;line-height:16px;color:#5d606b;transform:scaleX(1.0281);">Stock Session Local Time UTC-4:00 UTC-4:00 1800-0300 1800-0200 1900-0300 2100-0500 0200-1100 0300-1100 0800-1600 normal top_right</div>
<svg class="b" style="left:1062px;top:80px" width="140" height="20" viewBox="0 0 140 20"><g stroke="#131722" stroke-width="1.3" fill="none" stroke-linecap="round" stroke-linejoin="round"><path d="M2.200 10C4.500 6.300 7.500 4.800 10.500 4.800S16.500 6.300 18.800 10C16.500 13.700 13.500 15.200 10.500 15.200S4.500 13.700 2.200 10Z"/><circle cx="10.500" cy="10" r="2.500"/><path d="M35.8 4.2h6.4l3.3 5.8-3.3 5.8h-6.4L32.5 10z"/><circle cx="39" cy="10" r="2"/><path d="M66 4.5h-1.2c-1 0-1.6.6-1.6 1.6v2.1c0 .9-.5 1.5-1.4 1.8.9.3 1.4.9 1.4 1.8v2.1c0 1 .6 1.6 1.6 1.6H66M72 4.5h1.200c1 0 1.600.6 1.600 1.600v2.100c0 .9.500 1.500 1.400 1.800-.9.300-1.400.9-1.400 1.800v2.100c0 1-.6 1.600-1.600 1.600H72"/><path d="M92.500 6.500h11M95 6.500l.4-1.500c.1-.5.500-.8 1-.8h3.200c.5 0 .9.300 1 .8l.4 1.500M93.700 6.500l.9 8.200c.1.700.6 1.100 1.300 1.100h4.200c.7 0 1.200-.4 1.300-1.100l.9-8.200"/><circle cx="122" cy="10" r="1.700"/><circle cx="128.500" cy="10" r="1.700"/><circle cx="135" cy="10" r="1.700"/></g></svg>
<div class="b" style="left:16px;top:105px;width:30px;height:22px;border:1px solid #e0e3eb;border-radius:3px;background:#fff"></div>
<svg class="b" style="left:24px;top:111.500px" width="14" height="10" viewBox="0 0 14 10"><path d="M3 7l4-4 4 4" stroke="#131722" stroke-width="1.4" fill="none"/></svg>
<svg class="b" style="left:780px;top:0" width="330" height="95" viewBox="780 0 330 95"><defs><linearGradient id="wg" x1="0" y1="0" x2="0" y2="1"><stop offset="0" stop-color="#f1f1f1"/><stop offset="0.75" stop-color="#f5f5f5"/><stop offset="1" stop-color="#fbfbfb"/></linearGradient></defs>
<path d="M785 0H1103L1070 74Q1063 90 1046 90H842Q825 90 818 74Z" fill="url(#wg)"/>
<g fill="none" stroke="#1fe4ec" stroke-width="2.600" stroke-linejoin="miter"><path d="M853 16H860.700V36.800H853Z"/><path d="M869.400 28.400H880.800V36.800H866.100L861.100 41.500V52.800H880.800V62.200H860.400L853 54.500V46.100Z"/></g></svg>
<div class="t" style="left:892.0px;top:30.5px;font-size:22px;line-height:26px;color:#8f8f8f;transform:scaleX(1.1460);-webkit-text-stroke:0;">TradingFinder</div>
<div class="b" style="left:1207px;top:2px;width:640px;height:290px;border-radius:13px;padding:4px;background:linear-gradient(63deg,#6d35f5 0%,#6b3ef5 52%,#5a8ae8 68%,#4cbcdc 80%,#46c8da 86%);-webkit-mask:linear-gradient(#000 0 0) content-box,linear-gradient(#000 0 0);-webkit-mask-composite:xor;mask-composite:exclude;box-sizing:border-box"></div>
<div class="b" style="left:1238px;top:13px;width:598px;height:256.6px;background:#0f1b41"></div>
<svg class="b" style="left:1238px;top:13px" width="598" height="256.6"><rect x="541.4" y="58.1" width="56.1" height="27.5" fill="#e8574f"/><rect x="541.4" y="86.6" width="56.1" height="27.5" fill="#e8574f"/><rect x="541.4" y="115.1" width="56.1" height="27.5" fill="#e8574f"/><rect x="541.4" y="143.6" width="56.1" height="27.5" fill="#e8574f"/><rect x="541.4" y="172.1" width="56.1" height="27.4" fill="#e8574f"/><rect x="541.4" y="200.5" width="56.1" height="27.5" fill="#e8574f"/><rect x="541.4" y="229.0" width="56.1" height="27.4" fill="#4aa6a8"/><path d="M0 28.3H598M0 57.3H598M0 85.8H598M0 114.3H598M0 142.8H598M0 171.3H598M0 199.7H598M0 228.2H598M74.5 28.3V256.6M188.5 28.3V256.6M368.0 28.3V256.6M540.6 28.3V256.6" stroke="#1d2b69" stroke-width="1.1" fill="none"/><rect x="0.5" y="0.5" width="597" height="255.6" fill="none" stroke="#1a2a66"/></svg>
<div class="t" style="left:1447.5px;top:18.3px;font-size:14px;line-height:17px;color:#fff;transform:scaleX(1.0375);-webkit-text-stroke:0.35px #fff;">Stock Market Trading Hours</div>
<div class="t" style="left:1251.0px;top:46.5px;font-size:14px;line-height:17px;color:#fff;transform:scaleX(0.9838);-webkit-text-stroke:0.35px #fff;">Session</div>
<div class="t" style="left:1319.5px;top:46.5px;font-size:14px;line-height:17px;color:#fff;transform:scaleX(1.0332);-webkit-text-stroke:0.35px #fff;">Daylight Saving</div>
<div class="t" style="left:1432.6px;top:46.5px;font-size:14px;line-height:17px;color:#fff;transform:scaleX(1.0445);-webkit-text-stroke:0.35px #fff;">Start(Session Local Time)</div>
<div class="t" style="left:1613.0px;top:46.5px;font-size:14px;line-height:17px;color:#fff;transform:scaleX(1.0217);-webkit-text-stroke:0.35px #fff;">End(Session Local Time)</div>
<div class="t" style="left:1787.0px;top:46.5px;font-size:14px;line-height:17px;color:#fff;transform:scaleX(1.0331);-webkit-text-stroke:0.35px #fff;">Status</div>
<div class="t" style="left:1262.0px;top:75.1px;font-size:14px;line-height:17px;color:#8ab4f8;transform:scaleX(1.0098);-webkit-text-stroke:0.2px #8ab4f8;">Asia</div>
<div class="t" style="left:1339.0px;top:75.1px;font-size:14px;line-height:17px;color:#fff;transform:scaleX(1.0754);-webkit-text-stroke:0.4px #fff;">Active</div>
<svg class="b" style="left:1383px;top:76.0px" width="15" height="15" viewBox="-7.5 -7.5 15 15"><g fill="#fbcc2c"><path transform="rotate(0)" d="M-1.700 -4.500L0 -7.300L1.700 -4.500Z"/><path transform="rotate(30)" d="M-1.700 -4.500L0 -7.300L1.700 -4.500Z"/><path transform="rotate(60)" d="M-1.700 -4.500L0 -7.300L1.700 -4.500Z"/><path transform="rotate(90)" d="M-1.700 -4.500L0 -7.300L1.700 -4.500Z"/><path transform="rotate(120)" d="M-1.700 -4.500L0 -7.300L1.700 -4.500Z"/><path transform="rotate(150)" d="M-1.700 -4.500L0 -7.300L1.700 -4.500Z"/><path transform="rotate(180)" d="M-1.700 -4.500L0 -7.300L1.700 -4.500Z"/><path transform="rotate(210)" d="M-1.700 -4.500L0 -7.300L1.700 -4.500Z"/><path transform="rotate(240)" d="M-1.700 -4.500L0 -7.300L1.700 -4.500Z"/><path transform="rotate(270)" d="M-1.700 -4.500L0 -7.300L1.700 -4.500Z"/><path transform="rotate(300)" d="M-1.700 -4.500L0 -7.300L1.700 -4.500Z"/><path transform="rotate(330)" d="M-1.700 -4.500L0 -7.300L1.700 -4.500Z"/><circle r="5.200" stroke="#a87b08" stroke-width="0.500"/></g><circle cx="-1.700" cy="-1" r="0.700" fill="#6b4a10"/><circle cx="1.700" cy="-1" r="0.700" fill="#6b4a10"/><path d="M-2 1.300Q0 3.200 2 1.300" stroke="#6b4a10" stroke-width="0.700" fill="none"/></svg>
<div class="t" style="left:1498.0px;top:75.1px;font-size:14px;line-height:17px;color:#fff;transform:scaleX(1.0562);-webkit-text-stroke:0.4px #fff;">23:00</div>
<div class="t" style="left:1674.0px;top:75.1px;font-size:14px;line-height:17px;color:#fff;transform:scaleX(1.0562);-webkit-text-stroke:0.4px #fff;">06:00</div>
<div class="t" style="left:1786.5px;top:75.1px;font-size:14px;line-height:17px;color:#1c1330;transform:scaleX(0.9868);">Closed</div>
<div class="t" style="left:1252.5px;top:103.6px;font-size:14px;line-height:17px;color:#f2c08e;transform:scaleX(1.0065);-webkit-text-stroke:0.2px #f2c08e;">Sydney</div>
<div class="t" style="left:1339.0px;top:103.6px;font-size:14px;line-height:17px;color:#fff;transform:scaleX(1.0754);-webkit-text-stroke:0.4px #fff;">Active</div>
<svg class="b" style="left:1383px;top:104.5px" width="15" height="15" viewBox="-7.5 -7.5 15 15"><g fill="#fbcc2c"><path transform="rotate(0)" d="M-1.700 -4.500L0 -7.300L1.700 -4.500Z"/><path transform="rotate(30)" d="M-1.700 -4.500L0 -7.300L1.700 -4.500Z"/><path transform="rotate(60)" d="M-1.700 -4.500L0 -7.300L1.700 -4.500Z"/><path transform="rotate(90)" d="M-1.700 -4.500L0 -7.300L1.700 -4.500Z"/><path transform="rotate(120)" d="M-1.700 -4.500L0 -7.300L1.700 -4.500Z"/><path transform="rotate(150)" d="M-1.700 -4.500L0 -7.300L1.700 -4.500Z"/><path transform="rotate(180)" d="M-1.700 -4.500L0 -7.300L1.700 -4.500Z"/><path transform="rotate(210)" d="M-1.700 -4.500L0 -7.300L1.700 -4.500Z"/><path transform="rotate(240)" d="M-1.700 -4.500L0 -7.300L1.700 -4.500Z"/><path transform="rotate(270)" d="M-1.700 -4.500L0 -7.300L1.700 -4.500Z"/><path transform="rotate(300)" d="M-1.700 -4.500L0 -7.300L1.700 -4.500Z"/><path transform="rotate(330)" d="M-1.700 -4.500L0 -7.300L1.700 -4.500Z"/><circle r="5.200" stroke="#a87b08" stroke-width="0.500"/></g><circle cx="-1.700" cy="-1" r="0.700" fill="#6b4a10"/><circle cx="1.700" cy="-1" r="0.700" fill="#6b4a10"/><path d="M-2 1.300Q0 3.200 2 1.300" stroke="#6b4a10" stroke-width="0.700" fill="none"/></svg>
<div class="t" style="left:1498.0px;top:103.6px;font-size:14px;line-height:17px;color:#fff;transform:scaleX(1.0562);-webkit-text-stroke:0.4px #fff;">10:00</div>
<div class="t" style="left:1674.0px;top:103.6px;font-size:14px;line-height:17px;color:#fff;transform:scaleX(1.0562);-webkit-text-stroke:0.4px #fff;">16:00</div>
<div class="t" style="left:1786.5px;top:103.6px;font-size:14px;line-height:17px;color:#1c1330;transform:scaleX(0.9868);">Closed</div>
<div class="t" style="left:1257.0px;top:132.2px;font-size:14px;line-height:17px;color:#2ec4d6;transform:scaleX(1.0391);-webkit-text-stroke:0.2px #2ec4d6;">Tokyo</div>
<div class="t" style="left:1325.0px;top:132.2px;font-size:14px;line-height:17px;color:#fff;transform:scaleX(1.0363);-webkit-text-stroke:0.4px #fff;">Not Observed</div>
<div class="t" style="left:1498.0px;top:132.2px;font-size:14px;line-height:17px;color:#fff;transform:scaleX(1.0562);-webkit-text-stroke:0.4px #fff;">09:00</div>
<div class="t" style="left:1674.0px;top:132.2px;font-size:14px;line-height:17px;color:#fff;transform:scaleX(1.0562);-webkit-text-stroke:0.4px #fff;">15:00</div>
<div class="t" style="left:1786.5px;top:132.2px;font-size:14px;line-height:17px;color:#1c1330;transform:scaleX(0.9868);">Closed</div>
<div class="t" style="left:1246.5px;top:160.7px;font-size:14px;line-height:17px;color:#ff3d3d;transform:scaleX(0.9888);-webkit-text-stroke:0.2px #ff3d3d;">Shanghai</div>
<div class="t" style="left:1325.0px;top:160.7px;font-size:14px;line-height:17px;color:#fff;transform:scaleX(1.0363);-webkit-text-stroke:0.4px #fff;">Not Observed</div>
<div class="t" style="left:1498.0px;top:160.7px;font-size:14px;line-height:17px;color:#fff;transform:scaleX(1.0562);-webkit-text-stroke:0.4px #fff;">09:30</div>
<div class="t" style="left:1674.0px;top:160.7px;font-size:14px;line-height:17px;color:#fff;transform:scaleX(1.0562);-webkit-text-stroke:0.4px #fff;">15:00</div>
<div class="t" style="left:1786.5px;top:160.7px;font-size:14px;line-height:17px;color:#1c1330;transform:scaleX(0.9868);">Closed</div>
<div class="t" style="left:1253.0px;top:189.1px;font-size:14px;line-height:17px;color:#bfeabf;transform:scaleX(1.0190);-webkit-text-stroke:0.2px #bfeabf;">Europe</div>
<div class="t" style="left:1333.0px;top:189.1px;font-size:14px;line-height:17px;color:#fff;transform:scaleX(1.0986);-webkit-text-stroke:0.4px #fff;">Inactive</div>
<svg class="b" style="left:1387.5px;top:191.0px" width="18" height="16" viewBox="0 0 18 16"><defs><linearGradient id="lf" x1="0" y1="1" x2="1" y2="0"><stop offset="0" stop-color="#e2330f"/><stop offset="1" stop-color="#ff9a1f"/></linearGradient></defs><path d="M1.200 14.900C0.300 8.500 4.500 3.600 11.200 3.200C12.300 8.300 8.600 14.600 1.200 14.900Z" fill="url(#lf)" stroke="#5a1a08" stroke-width="0.500"/><path d="M9.300 13.900C9.200 9.700 12.300 6.900 16.300 7.500C17.500 11 14.600 14.900 9.300 13.900Z" fill="#ffc42a" stroke="#6b3a08" stroke-width="0.500"/><path d="M10.800 3.600L12.700 0.900" stroke="#c8400f" stroke-width="1.100" fill="none"/></svg>
<div class="t" style="left:1498.0px;top:189.1px;font-size:14px;line-height:17px;color:#fff;transform:scaleX(1.0562);-webkit-text-stroke:0.4px #fff;">07:00</div>
<div class="t" style="left:1674.0px;top:189.1px;font-size:14px;line-height:17px;color:#fff;transform:scaleX(1.0562);-webkit-text-stroke:0.4px #fff;">16:30</div>
<div class="t" style="left:1786.5px;top:189.1px;font-size:14px;line-height:17px;color:#1c1330;transform:scaleX(0.9868);">Closed</div>
<div class="t" style="left:1252.0px;top:217.5px;font-size:14px;line-height:17px;color:#a5aede;transform:scaleX(1.0276);-webkit-text-stroke:0.2px #a5aede;">London</div>
<div class="t" style="left:1333.0px;top:217.5px;font-size:14px;line-height:17px;color:#fff;transform:scaleX(1.0986);-webkit-text-stroke:0.4px #fff;">Inactive</div>
<svg class="b" style="left:1387.5px;top:219.4px" width="18" height="16" viewBox="0 0 18 16"><defs><linearGradient id="lf" x1="0" y1="1" x2="1" y2="0"><stop offset="0" stop-color="#e2330f"/><stop offset="1" stop-color="#ff9a1f"/></linearGradient></defs><path d="M1.200 14.900C0.300 8.500 4.500 3.600 11.200 3.200C12.300 8.300 8.600 14.600 1.200 14.900Z" fill="url(#lf)" stroke="#5a1a08" stroke-width="0.500"/><path d="M9.300 13.900C9.200 9.700 12.300 6.900 16.300 7.500C17.500 11 14.600 14.900 9.300 13.900Z" fill="#ffc42a" stroke="#6b3a08" stroke-width="0.500"/><path d="M10.800 3.600L12.700 0.900" stroke="#c8400f" stroke-width="1.100" fill="none"/></svg>
<div class="t" style="left:1498.0px;top:217.5px;font-size:14px;line-height:17px;color:#fff;transform:scaleX(1.0562);-webkit-text-stroke:0.4px #fff;">08:00</div>
<div class="t" style="left:1674.0px;top:217.5px;font-size:14px;line-height:17px;color:#fff;transform:scaleX(1.0562);-webkit-text-stroke:0.4px #fff;">16:30</div>
<div class="t" style="left:1786.5px;top:217.5px;font-size:14px;line-height:17px;color:#1c1330;transform:scaleX(0.9868);">Closed</div>
<div class="t" style="left:1245.5px;top:246.0px;font-size:14px;line-height:17px;color:#b7a3e6;transform:scaleX(1.0398);-webkit-text-stroke:0.2px #b7a3e6;">New York</div>
<div class="t" style="left:1333.0px;top:246.0px;font-size:14px;line-height:17px;color:#fff;transform:scaleX(1.0986);-webkit-text-stroke:0.4px #fff;">Inactive</div>
<svg class="b" style="left:1387.5px;top:247.9px" width="18" height="16" viewBox="0 0 18 16"><defs><linearGradient id="lf" x1="0" y1="1" x2="1" y2="0"><stop offset="0" stop-color="#e2330f"/><stop offset="1" stop-color="#ff9a1f"/></linearGradient></defs><path d="M1.200 14.900C0.300 8.500 4.500 3.600 11.200 3.200C12.300 8.300 8.600 14.600 1.200 14.900Z" fill="url(#lf)" stroke="#5a1a08" stroke-width="0.500"/><path d="M9.300 13.900C9.200 9.700 12.300 6.900 16.300 7.500C17.500 11 14.600 14.900 9.300 13.900Z" fill="#ffc42a" stroke="#6b3a08" stroke-width="0.500"/><path d="M10.800 3.600L12.700 0.900" stroke="#c8400f" stroke-width="1.100" fill="none"/></svg>
<div class="t" style="left:1498.0px;top:246.0px;font-size:14px;line-height:17px;color:#fff;transform:scaleX(1.0562);-webkit-text-stroke:0.4px #fff;">09:30</div>
<div class="t" style="left:1674.0px;top:246.0px;font-size:14px;line-height:17px;color:#fff;transform:scaleX(1.0562);-webkit-text-stroke:0.4px #fff;">16:00</div>
<div class="t" style="left:1790.5px;top:246.0px;font-size:14px;line-height:17px;color:#10242c;transform:scaleX(0.9928);">Open</div>
<svg class="b" style="left:0;top:216px" width="1846" height="3"><path d="M6 1.500H1826" stroke="#b0b2b9" stroke-width="1" stroke-dasharray="5.500 6.100" fill="none"/></svg>
<div class="t" style="left:416.0px;top:191.3px;font-size:34px;line-height:41px;color:#3b3b3b;font-weight:bold;transform:scaleX(0.9557);">Stock Market Panel Based on Local Session Time</div>
<div class="t" style="left:400.0px;top:387.3px;font-size:34px;line-height:41px;color:#3b3b3b;font-weight:bold;transform:scaleX(0.9634);">Stock Market Trading Hours</div>
<div class="b" style="left:1848px;top:3px;width:72px;height:1009px;background:#fff"></div>
<div class="t" style="left:1855.0px;top:73.0px;font-size:12px;line-height:14px;color:#131722;transform:scaleX(1.0491);">2,680.000</div>
<div class="t" style="left:1855.0px;top:118.4px;font-size:12px;line-height:14px;color:#131722;transform:scaleX(1.0491);">2,676.000</div>
<div class="t" style="left:1855.0px;top:163.8px;font-size:12px;line-height:14px;color:#131722;transform:scaleX(1.0491);">2,672.000</div>
<div class="t" style="left:1855.0px;top:209.3px;font-size:12px;line-height:14px;color:#131722;transform:scaleX(1.0491);">2,668.000</div>
<div class="t" style="left:1855.0px;top:254.7px;font-size:12px;line-height:14px;color:#131722;transform:scaleX(1.0491);">2,664.000</div>
<div class="t" style="left:1855.0px;top:300.1px;font-size:12px;line-height:14px;color:#131722;transform:scaleX(1.0491);">2,660.000</div>
<div class="t" style="left:1855.0px;top:345.5px;font-size:12px;line-height:14px;color:#131722;transform:scaleX(1.0491);">2,656.000</div>
<div class="t" style="left:1855.0px;top:390.9px;font-size:12px;line-height:14px;color:#131722;transform:scaleX(1.0491);">2,652.000</div>
<div class="t" style="left:1855.0px;top:436.4px;font-size:12px;line-height:14px;color:#131722;transform:scaleX(1.0491);">2,648.000</div>
<div class="t" style="left:1855.0px;top:481.8px;font-size:12px;line-height:14px;color:#131722;transform:scaleX(1.0491);">2,644.000</div>
<div class="t" style="left:1855.0px;top:527.2px;font-size:12px;line-height:14px;color:#131722;transform:scaleX(1.0491);">2,640.000</div>
<div class="t" style="left:1855.0px;top:572.6px;font-size:12px;line-height:14px;color:#131722;transform:scaleX(1.0491);">2,636.000</div>
<div class="t" style="left:1855.0px;top:618.0px;font-size:12px;line-height:14px;color:#131722;transform:scaleX(1.0491);">2,632.000</div>
<div class="t" style="left:1855.0px;top:663.5px;font-size:12px;line-height:14px;color:#131722;transform:scaleX(1.0491);">2,628.000</div>
<div class="t" style="left:1855.0px;top:708.9px;font-size:12px;line-height:14px;color:#131722;transform:scaleX(1.0491);">2,624.000</div>
<div class="t" style="left:1855.0px;top:754.3px;font-size:12px;line-height:14px;color:#131722;transform:scaleX(1.0491);">2,620.000</div>
<div class="t" style="left:1855.0px;top:799.7px;font-size:12px;line-height:14px;color:#131722;transform:scaleX(1.0491);">2,616.000</div>
<div class="t" style="left:1855.0px;top:845.1px;font-size:12px;line-height:14px;color:#131722;transform:scaleX(1.0491);">2,612.000</div>
<div class="t" style="left:1855.0px;top:890.6px;font-size:12px;line-height:14px;color:#131722;transform:scaleX(1.0491);">2,608.000</div>
<div class="t" style="left:1855.0px;top:936.0px;font-size:12px;line-height:14px;color:#131722;transform:scaleX(1.0491);">2,604.000</div>
<div class="b" style="left:1850px;top:7.5px;width:67px;height:27px;border:1px solid #ececf0;border-radius:4px;background:#fff"></div>
<div class="t" style="left:1854.7px;top:12.8px;font-size:13px;line-height:16px;color:#131722;transform:scaleX(0.7760);">USD</div>
<svg class="b" style="left:1904.500px;top:18px" width="10" height="8" viewBox="0 0 10 8"><path d="M2 2.500l3 3 3-3" stroke="#131722" stroke-width="1.300" fill="none"/></svg>
<div class="b" style="left:1846px;top:404px;width:70px;height:33px;background:#1a9d85;border-radius:2px"></div>
<div class="t" style="left:1854.5px;top:405.5px;font-size:12px;line-height:14px;color:#fff;transform:scaleX(1.0491);-webkit-text-stroke:0.3px #fff;">2,650.740</div>
<div class="t" style="left:1854.5px;top:420.0px;font-size:12px;line-height:14px;color:#d5f1ea;transform:scaleX(1.0491);">00:26</div>
<div class="b" style="left:1845px;top:206px;width:71px;height:22px;background:#131722;border-radius:3px"></div>
<div class="b" style="left:1825px;top:207.500px;width:19px;height:19px;border-radius:50%;background:#131722"></div>
<svg class="b" style="left:1826px;top:208px" width="18" height="18" viewBox="0 0 18 18"><circle cx="8.500" cy="9" r="6.500" fill="none" stroke="#fff" stroke-width="1.200"/><path d="M8.500 5.500v7M5 9h7" stroke="#fff" stroke-width="1.200"/></svg>
<div class="t" style="left:1854.5px;top:210.0px;font-size:12px;line-height:14px;color:#fff;font-weight:bold;transform:scaleX(1.0491);">2,667.954</div>
<div class="b" style="left:0px;top:980px;width:1846px;height:32px;background:#fff"></div>
<div class="t" style="left:85.5px;top:989.5px;font-size:12px;line-height:14px;color:#131722;transform:scaleX(0.9741);">19</div>
<div class="t" style="left:321.5px;top:989.5px;font-size:12px;line-height:14px;color:#131722;transform:scaleX(1.0324);">06:00</div>
<div class="t" style="left:443.5px;top:989.5px;font-size:12px;line-height:14px;color:#131722;transform:scaleX(1.0324);">09:00</div>
<div class="t" style="left:566.0px;top:989.5px;font-size:12px;line-height:14px;color:#131722;transform:scaleX(1.0324);">12:00</div>
<div class="t" style="left:688.5px;top:989.5px;font-size:12px;line-height:14px;color:#131722;transform:scaleX(1.0324);">15:00</div>
<div class="t" style="left:810.5px;top:989.5px;font-size:12px;line-height:14px;color:#131722;transform:scaleX(1.0324);">18:00</div>
<div class="t" style="left:912.5px;top:989.5px;font-size:12px;line-height:14px;color:#131722;transform:scaleX(1.0324);">20:30</div>
<div class="t" style="left:1023.5px;top:989.5px;font-size:12px;line-height:14px;color:#131722;transform:scaleX(0.9741);">20</div>
<div class="t" style="left:1136.5px;top:989.5px;font-size:12px;line-height:14px;color:#131722;transform:scaleX(1.0324);">03:00</div>
<div class="t" style="left:1259.5px;top:989.5px;font-size:12px;line-height:14px;color:#131722;transform:scaleX(1.0324);">06:00</div>
<div class="t" style="left:1381.5px;top:989.5px;font-size:12px;line-height:14px;color:#131722;transform:scaleX(1.0324);">09:00</div>
<div class="t" style="left:1503.5px;top:989.5px;font-size:12px;line-height:14px;color:#131722;transform:scaleX(1.0324);">12:00</div>
<div class="t" style="left:1626.0px;top:989.5px;font-size:12px;line-height:14px;color:#131722;transform:scaleX(1.0324);">15:00</div>
<div class="t" style="left:1748.5px;top:989.5px;font-size:12px;line-height:14px;color:#131722;transform:scaleX(1.0324);">18:00</div>
<div class="b" style="left:155px;top:982px;width:143px;height:25px;background:#131722;border-radius:2px"></div>
<div class="t" style="left:164.0px;top:990.0px;font-size:12px;line-height:14px;color:#fff;font-weight:bold;transform:scaleX(0.9920);">Tue 19 Nov '24</div>
<div class="t" style="left:257.0px;top:990.0px;font-size:12px;line-height:14px;color:#fff;font-weight:bold;transform:scaleX(1.0102);">03:17</div>
<svg class="b" style="left:1874px;top:987px" width="20" height="20" viewBox="0 0 20 20"><path d="M6.800 4.200h6.400l3.300 5.800-3.300 5.800H6.800L3.500 10z" stroke="#131722" stroke-width="1.300" fill="none" stroke-linejoin="round"/><circle cx="10" cy="10" r="2" stroke="#131722" stroke-width="1.300" fill="none"/></svg>
<svg class="b" style="left:1710px;top:957px" width="24" height="24" viewBox="0 0 24 24"><circle cx="12" cy="12" r="10.300" fill="none" stroke="#9c27b0" stroke-width="1.400"/><path d="M13.500 6.500L8 13h3.500L10.500 17.500 16 11h-3.500z" fill="#9c27b0"/></svg>
<svg class="b" style="left:19px;top:951px" width="34" height="20" viewBox="0 0 34 20"><path d="M0 1.500h13v16.500H6.500V8H0z" fill="#131722"/><circle cx="18" cy="4.800" r="3.300" fill="#131722"/><path d="M24.500 1.500H32.500L25.500 18H17.500z" fill="#131722"/></svg>
<div class="t" style="left:58.0px;top:947.5px;font-size:22px;line-height:26px;color:#131722;font-weight:bold;transform:scaleX(0.9831);">TradingView</div>
<div class="b" style="left:0px;top:1012px;width:1920px;height:35px;background:#fff;border-top:1px solid #e8e9ee"></div>
<div class="t" style="left:22.0px;top:1024.5px;font-size:14px;line-height:17px;color:#131722;transform:scaleX(0.8382);">1D</div>
<div class="t" style="left:51.0px;top:1024.5px;font-size:14px;line-height:17px;color:#131722;transform:scaleX(0.8941);">5D</div>
<div class="t" style="left:81.0px;top:1024.5px;font-size:14px;line-height:17px;color:#131722;transform:scaleX(0.8742);">1M</div>
<div class="t" style="left:111.0px;top:1024.5px;font-size:14px;line-height:17px;color:#131722;transform:scaleX(0.9256);">3M</div>
<div class="t" style="left:142.0px;top:1024.5px;font-size:14px;line-height:17px;color:#131722;transform:scaleX(0.9256);">6M</div>
<div class="t" style="left:173.0px;top:1024.5px;font-size:14px;line-height:17px;color:#131722;transform:scaleX(0.9286);">YTD</div>
<div class="t" style="left:212.0px;top:1024.5px;font-size:14px;line-height:17px;color:#131722;transform:scaleX(0.9344);">1Y</div>
<div class="t" style="left:241.0px;top:1024.5px;font-size:14px;line-height:17px;color:#131722;transform:scaleX(0.9344);">5Y</div>
<div class="t" style="left:269.5px;top:1024.5px;font-size:14px;line-height:17px;color:#131722;transform:scaleX(1.0604);">All</div>
<div class="b" style="left:298px;top:1021px;width:1px;height:24px;background:#e0e3eb"></div>
<svg class="b" style="left:311px;top:1021px" width="24" height="24" viewBox="0 0 24 24"><g stroke="#131722" stroke-width="1.300" fill="none" stroke-linecap="round" stroke-linejoin="round"><path d="M3 9V6.500C3 5.400 3.900 4.500 5 4.500H19C20.100 4.500 21 5.400 21 6.500V18.500C21 19.600 20.100 20.500 19 20.500H12"/><path d="M3 9H21M7.500 2.500V6M16.500 2.500V6"/><path d="M2 16.500H9.500M6.500 13.500L9.500 16.500L6.500 19.500"/></g></svg>
<div class="t" style="left:1812.0px;top:1024.5px;font-size:14px;line-height:17px;color:#131722;transform:scaleX(1.0262);">16:57:34 (UTC)</div>
<div class="b" style="left:0px;top:0px;width:786px;height:2.6px;background:#e3e5ed"></div>
<div class="b" style="left:1102px;top:0px;width:818px;height:2.6px;background:#e3e5ed"></div>
<div class="b" style="left:2px;top:3px;width:3.4px;height:1044px;background:#e6e8ef"></div>
</body></html>
